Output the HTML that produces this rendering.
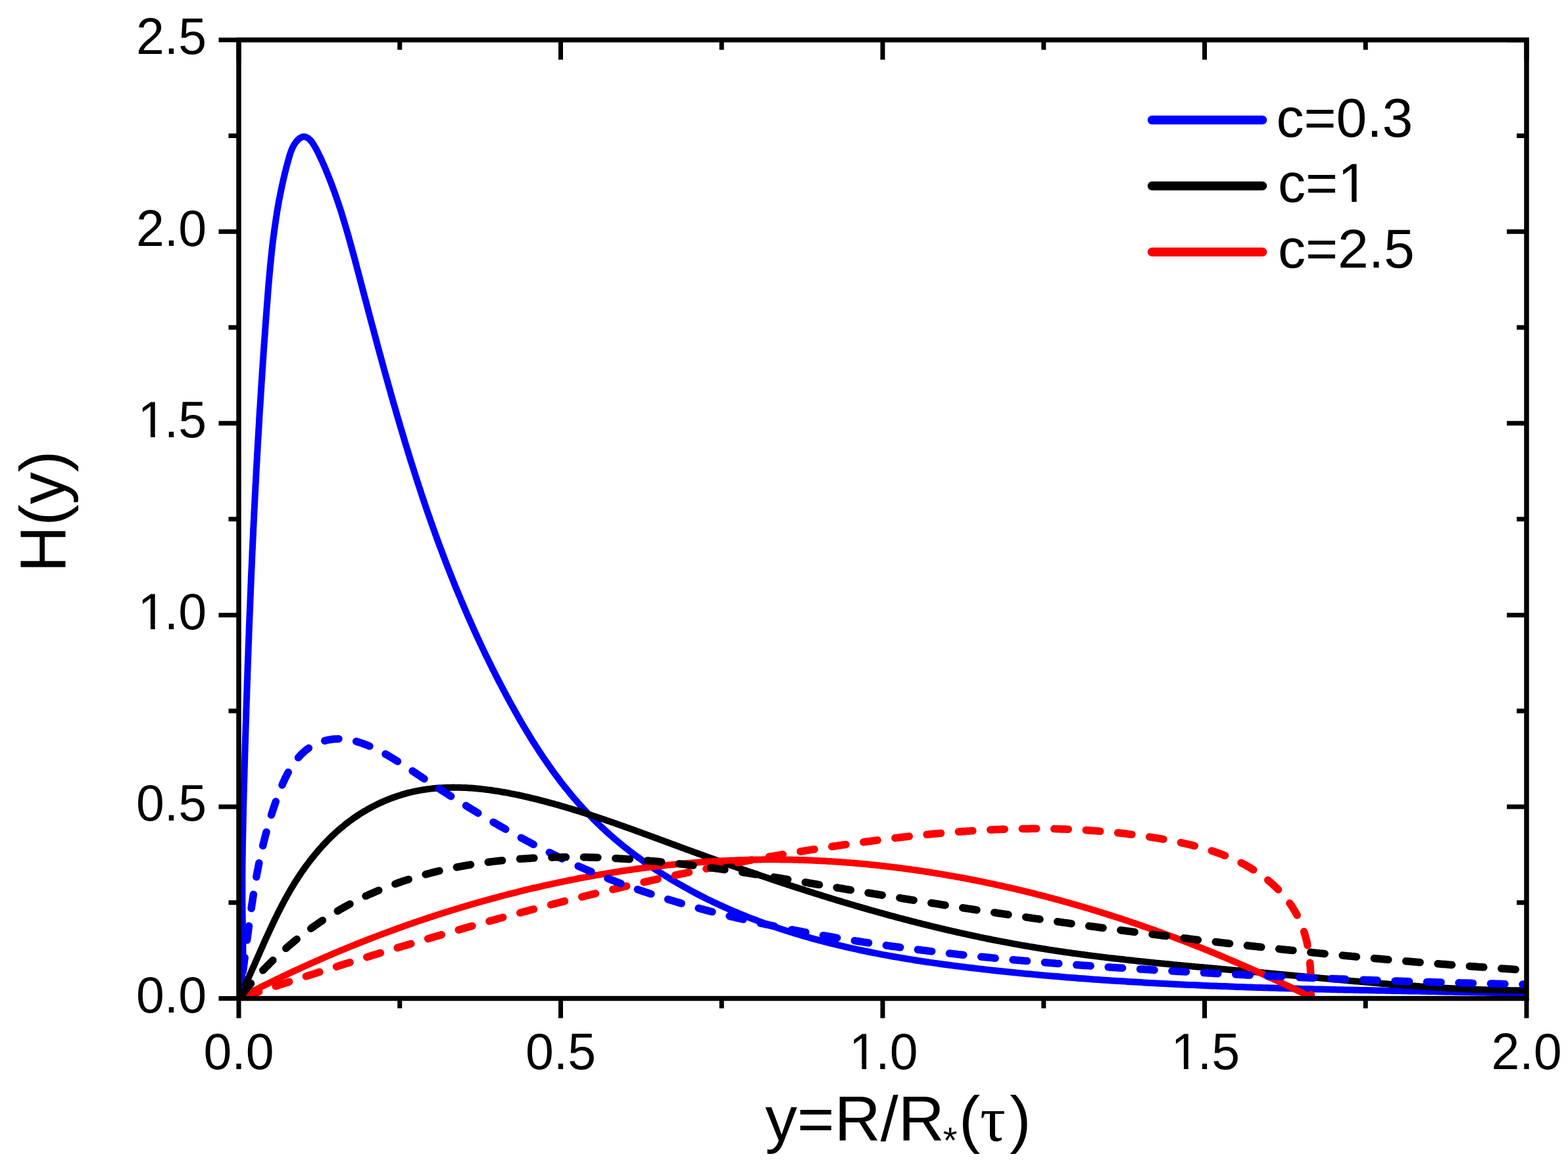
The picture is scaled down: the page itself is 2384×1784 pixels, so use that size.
<!DOCTYPE html>
<html><head><meta charset="utf-8"><title>H(y)</title>
<style>html,body{margin:0;padding:0;background:#fff;overflow:hidden}svg{display:block}</style>
</head><body>
<svg xmlns="http://www.w3.org/2000/svg" width="2384" height="1784" viewBox="0 0 2384 1784">
<rect width="2384" height="1784" fill="#fff"/>
<defs><clipPath id="pc"><rect x="363" y="40" width="1958" height="1478.5"/></clipPath></defs><g clip-path="url(#pc)"><g fill="none" stroke-width="10" stroke-linejoin="round">
<path d="M363.0,1518.5 L364.0,1513.7 L364.9,1508.8 L365.6,1503.9 L366.3,1499.1 L366.9,1494.2 L367.5,1489.3 L367.9,1484.4 L368.3,1479.5 L368.6,1474.6 L368.9,1469.7 L369.1,1464.8 L369.2,1459.9 L369.3,1454.9 L369.4,1450.0 L369.4,1445.1 L369.4,1440.1 L369.4,1435.2 L369.3,1430.3 L369.2,1425.3 L369.1,1420.4 L369.0,1415.4 L368.9,1410.5 L368.9,1405.6 L368.8,1400.6 L368.7,1395.7 L368.6,1390.7 L368.6,1385.8 L368.5,1380.8 L368.5,1375.9 L368.4,1371.0 L368.4,1366.0 L368.4,1361.1 L368.4,1356.2 L368.4,1351.2 L368.4,1346.3 L368.4,1341.3 L368.4,1336.4 L368.4,1331.5 L368.5,1326.5 L368.5,1321.6 L368.5,1316.7 L368.6,1311.7 L368.6,1306.8 L368.7,1301.9 L368.8,1296.9 L368.8,1292.0 L368.9,1287.1 L369.0,1282.2 L369.1,1277.2 L369.2,1272.3 L369.3,1267.4 L369.4,1262.4 L369.5,1257.5 L369.6,1252.6 L369.7,1247.6 L369.8,1242.7 L369.9,1237.8 L370.0,1232.9 L370.1,1227.9 L370.3,1223.0 L370.4,1218.1 L370.5,1213.1 L370.6,1208.2 L370.8,1203.3 L370.9,1198.4 L371.0,1193.4 L371.2,1188.5 L371.3,1183.6 L371.5,1178.7 L371.6,1173.7 L371.7,1168.8 L371.9,1163.9 L372.0,1158.9 L372.2,1154.0 L372.3,1149.1 L372.5,1144.2 L372.6,1139.2 L372.7,1134.3 L372.9,1129.4 L373.0,1124.4 L373.2,1119.5 L373.3,1114.6 L373.5,1109.7 L373.6,1104.7 L373.8,1099.8 L374.0,1094.9 L374.1,1089.9 L374.3,1085.0 L374.4,1080.1 L374.6,1075.2 L374.7,1070.2 L374.9,1065.3 L375.1,1060.4 L375.2,1055.4 L375.4,1050.5 L375.6,1045.6 L375.7,1040.6 L375.9,1035.7 L376.1,1030.8 L376.2,1025.9 L376.4,1020.9 L376.6,1016.0 L376.7,1011.1 L376.9,1006.1 L377.1,1001.2 L377.3,996.3 L377.5,991.4 L377.6,986.4 L377.8,981.5 L378.0,976.6 L378.2,971.6 L378.4,966.7 L378.5,961.8 L378.7,956.9 L378.9,951.9 L379.1,947.0 L379.3,942.1 L379.5,937.1 L379.7,932.2 L379.9,927.3 L380.1,922.3 L380.3,917.4 L380.5,912.5 L380.7,907.6 L380.9,902.6 L381.1,897.7 L381.3,892.8 L381.5,887.9 L381.7,882.9 L381.9,878.0 L382.1,873.1 L382.3,868.1 L382.6,863.2 L382.8,858.3 L383.0,853.4 L383.2,848.4 L383.4,843.5 L383.6,838.6 L383.9,833.6 L384.1,828.7 L384.3,823.8 L384.6,818.9 L384.8,813.9 L385.0,809.0 L385.2,804.1 L385.5,799.2 L385.7,794.2 L386.0,789.3 L386.2,784.4 L386.4,779.5 L386.7,774.5 L386.9,769.6 L387.2,764.7 L387.4,759.8 L387.7,754.8 L387.9,749.9 L388.2,745.0 L388.4,740.1 L388.7,735.1 L389.0,730.2 L389.2,725.3 L389.5,720.4 L389.7,715.4 L390.0,710.5 L390.3,705.6 L390.6,700.7 L390.8,695.7 L391.1,690.8 L391.4,685.9 L391.7,681.0 L391.9,676.0 L392.2,671.1 L392.5,666.2 L392.8,661.3 L393.1,656.4 L393.4,651.4 L393.7,646.5 L394.0,641.6 L394.2,636.7 L394.5,631.8 L394.8,626.8 L395.1,621.9 L395.5,617.0 L395.8,612.1 L396.1,607.1 L396.4,602.2 L396.7,597.3 L397.0,592.4 L397.3,587.5 L397.6,582.5 L398.0,577.6 L398.3,572.7 L398.6,567.8 L398.9,562.9 L399.3,557.9 L399.6,553.0 L399.9,548.1 L400.3,543.2 L400.6,538.3 L400.9,533.3 L401.3,528.4 L401.6,523.5 L402.0,518.6 L402.3,513.7 L402.7,508.7 L403.0,503.8 L403.4,498.9 L403.7,494.0 L404.1,489.1 L404.4,484.1 L404.8,479.2 L405.2,474.3 L405.5,469.4 L405.9,464.5 L406.3,459.5 L406.7,454.6 L407.0,449.7 L407.4,444.8 L407.8,439.9 L408.2,435.0 L408.6,430.0 L409.1,425.1 L409.5,420.2 L409.9,415.3 L410.4,410.4 L410.8,405.5 L411.3,400.6 L411.8,395.7 L412.3,390.8 L412.8,385.9 L413.3,381.0 L413.9,376.1 L414.4,371.2 L415.0,366.3 L415.6,361.4 L416.3,356.5 L416.9,351.6 L417.6,346.7 L418.3,341.9 L419.0,337.0 L419.7,332.1 L420.5,327.3 L421.2,322.4 L422.0,317.5 L422.9,312.7 L423.7,307.8 L424.6,303.0 L425.6,298.2 L426.5,293.3 L427.5,288.5 L428.5,283.7 L429.6,278.8 L430.6,274.0 L431.8,269.2 L432.9,264.4 L434.1,259.6 L435.3,254.8 L436.6,250.0 L437.9,245.3 L439.2,240.5 L440.6,235.7 L442.2,231.0 L443.9,226.4 L446.1,222.0 L448.6,217.8 L451.8,213.9 L455.5,210.4 L459.7,208.1 L464.0,208.0 L468.2,210.0 L471.9,213.2 L475.1,217.2 L477.9,221.6 L480.4,226.1 L482.8,230.6 L485.0,235.1 L487.1,239.5 L489.2,244.0 L491.2,248.5 L493.2,253.0 L495.1,257.5 L497.0,262.1 L498.8,266.6 L500.7,271.2 L502.4,275.8 L504.2,280.4 L505.9,285.0 L507.6,289.6 L509.3,294.2 L510.9,298.8 L512.5,303.5 L514.1,308.1 L515.6,312.8 L517.2,317.4 L518.7,322.1 L520.1,326.8 L521.6,331.5 L523.0,336.2 L524.4,340.9 L525.8,345.6 L527.2,350.4 L528.6,355.1 L529.9,359.8 L531.3,364.6 L532.6,369.3 L533.9,374.1 L535.2,378.8 L536.5,383.6 L537.8,388.3 L539.1,393.1 L540.3,397.9 L541.6,402.6 L542.8,407.4 L544.1,412.2 L545.4,416.9 L546.6,421.7 L547.9,426.5 L549.1,431.3 L550.4,436.0 L551.6,440.8 L552.9,445.6 L554.1,450.3 L555.4,455.1 L556.7,459.9 L557.9,464.7 L559.2,469.4 L560.4,474.2 L561.7,479.0 L563.0,483.7 L564.2,488.5 L565.5,493.3 L566.8,498.0 L568.0,502.8 L569.3,507.6 L570.6,512.3 L571.9,517.1 L573.1,521.9 L574.4,526.6 L575.7,531.4 L577.0,536.2 L578.3,540.9 L579.6,545.7 L580.9,550.4 L582.2,555.2 L583.5,560.0 L584.8,564.7 L586.1,569.5 L587.4,574.2 L588.8,579.0 L590.1,583.7 L591.4,588.5 L592.8,593.2 L594.1,598.0 L595.4,602.7 L596.8,607.4 L598.1,612.2 L599.5,616.9 L600.9,621.7 L602.2,626.4 L603.6,631.1 L605.0,635.9 L606.4,640.6 L607.8,645.3 L609.1,650.1 L610.6,654.8 L612.0,659.5 L613.4,664.2 L614.8,669.0 L616.2,673.7 L617.6,678.4 L619.1,683.1 L620.5,687.8 L622.0,692.5 L623.4,697.2 L624.9,701.9 L626.4,706.6 L627.9,711.3 L629.4,716.0 L630.9,720.7 L632.4,725.4 L633.9,730.1 L635.4,734.8 L636.9,739.5 L638.5,744.2 L640.0,748.8 L641.5,753.5 L643.1,758.2 L644.7,762.8 L646.3,767.5 L647.8,772.2 L649.4,776.8 L651.0,781.5 L652.7,786.2 L654.3,790.8 L655.9,795.4 L657.6,800.1 L659.2,804.7 L660.9,809.4 L662.5,814.0 L664.2,818.6 L665.9,823.3 L667.6,827.9 L669.3,832.5 L671.1,837.1 L672.8,841.7 L674.5,846.3 L676.3,851.0 L678.0,855.6 L679.8,860.1 L681.6,864.7 L683.4,869.3 L685.2,873.9 L687.0,878.5 L688.9,883.1 L690.7,887.6 L692.5,892.2 L694.4,896.8 L696.3,901.3 L698.2,905.9 L700.1,910.4 L702.0,915.0 L703.9,919.5 L705.8,924.0 L707.8,928.6 L709.7,933.1 L711.7,937.6 L713.7,942.1 L715.7,946.6 L717.7,951.1 L719.7,955.6 L721.7,960.1 L723.8,964.6 L725.8,969.1 L727.9,973.5 L730.0,978.0 L732.1,982.5 L734.2,986.9 L736.3,991.4 L738.4,995.8 L740.6,1000.2 L742.7,1004.7 L744.9,1009.1 L747.1,1013.5 L749.3,1017.9 L751.5,1022.3 L753.7,1026.7 L756.0,1031.1 L758.2,1035.5 L760.5,1039.9 L762.8,1044.3 L765.1,1048.6 L767.4,1053.0 L769.7,1057.4 L772.1,1061.7 L774.4,1066.0 L776.8,1070.4 L779.2,1074.7 L781.6,1079.0 L784.0,1083.3 L786.4,1087.6 L788.9,1091.9 L791.3,1096.2 L793.8,1100.5 L796.3,1104.7 L798.9,1109.0 L801.4,1113.2 L804.0,1117.4 L806.5,1121.6 L809.1,1125.8 L811.8,1130.0 L814.4,1134.2 L817.1,1138.3 L819.8,1142.5 L822.5,1146.6 L825.2,1150.7 L828.0,1154.8 L830.7,1158.8 L833.6,1162.9 L836.4,1166.9 L839.2,1170.9 L842.1,1174.9 L845.0,1178.9 L848.0,1182.8 L850.9,1186.8 L853.9,1190.7 L856.9,1194.5 L860.0,1198.4 L863.1,1202.2 L866.2,1206.0 L869.3,1209.8 L872.5,1213.6 L875.7,1217.3 L878.9,1221.0 L882.2,1224.7 L885.5,1228.3 L888.8,1231.9 L892.2,1235.5 L895.6,1239.1 L899.0,1242.6 L902.5,1246.1 L906.0,1249.6 L909.5,1253.0 L913.1,1256.5 L916.7,1259.8 L920.3,1263.2 L923.9,1266.5 L927.6,1269.8 L931.4,1273.0 L935.1,1276.3 L938.9,1279.5 L942.7,1282.6 L946.5,1285.8 L950.4,1288.9 L954.3,1291.9 L958.2,1295.0 L962.1,1298.0 L966.1,1301.0 L970.1,1303.9 L974.1,1306.8 L978.1,1309.7 L982.2,1312.6 L986.3,1315.4 L990.4,1318.2 L994.5,1321.0 L998.6,1323.7 L1002.8,1326.4 L1007.0,1329.1 L1011.2,1331.7 L1015.4,1334.3 L1019.6,1336.9 L1023.8,1339.5 L1028.1,1342.0 L1032.4,1344.5 L1036.7,1346.9 L1041.0,1349.3 L1045.3,1351.7 L1049.6,1354.1 L1053.9,1356.4 L1058.3,1358.7 L1062.6,1361.0 L1067.0,1363.3 L1071.4,1365.5 L1075.8,1367.7 L1080.2,1369.8 L1084.6,1371.9 L1089.1,1374.0 L1093.5,1376.1 L1098.0,1378.1 L1102.4,1380.2 L1106.9,1382.1 L1111.4,1384.1 L1115.9,1386.0 L1120.4,1387.9 L1124.9,1389.8 L1129.5,1391.7 L1134.0,1393.5 L1138.5,1395.3 L1143.1,1397.1 L1147.7,1398.8 L1152.3,1400.6 L1156.8,1402.3 L1161.4,1403.9 L1166.0,1405.6 L1170.7,1407.2 L1175.3,1408.8 L1179.9,1410.4 L1184.6,1412.0 L1189.2,1413.5 L1193.9,1415.0 L1198.5,1416.5 L1203.2,1417.9 L1207.9,1419.4 L1212.6,1420.8 L1217.3,1422.2 L1222.0,1423.6 L1226.7,1424.9 L1231.4,1426.3 L1236.2,1427.6 L1240.9,1428.9 L1245.7,1430.2 L1250.4,1431.4 L1255.2,1432.7 L1259.9,1433.9 L1264.7,1435.1 L1269.5,1436.2 L1274.3,1437.4 L1279.0,1438.5 L1283.8,1439.7 L1288.6,1440.8 L1293.4,1441.9 L1298.3,1442.9 L1303.1,1444.0 L1307.9,1445.0 L1312.7,1446.0 L1317.6,1447.0 L1322.4,1448.0 L1327.2,1449.0 L1332.1,1449.9 L1336.9,1450.9 L1341.8,1451.8 L1346.6,1452.7 L1351.5,1453.6 L1356.4,1454.5 L1361.2,1455.3 L1366.1,1456.2 L1371.0,1457.0 L1375.9,1457.8 L1380.8,1458.6 L1385.7,1459.4 L1390.6,1460.2 L1395.4,1461.0 L1400.3,1461.7 L1405.2,1462.5 L1410.1,1463.2 L1415.1,1463.9 L1420.0,1464.6 L1424.9,1465.3 L1429.8,1466.0 L1434.7,1466.7 L1439.6,1467.3 L1444.5,1468.0 L1449.4,1468.6 L1454.4,1469.3 L1459.3,1469.9 L1464.2,1470.5 L1469.1,1471.1 L1474.0,1471.7 L1479.0,1472.3 L1483.9,1472.9 L1488.8,1473.4 L1493.7,1474.0 L1498.7,1474.6 L1503.6,1475.1 L1508.5,1475.7 L1513.4,1476.2 L1518.4,1476.7 L1523.3,1477.2 L1528.2,1477.7 L1533.1,1478.3 L1538.1,1478.8 L1543.0,1479.3 L1547.9,1479.7 L1552.8,1480.2 L1557.8,1480.7 L1562.7,1481.2 L1567.6,1481.6 L1572.5,1482.1 L1577.4,1482.5 L1582.4,1483.0 L1587.3,1483.4 L1592.2,1483.9 L1597.1,1484.3 L1602.0,1484.7 L1607.0,1485.1 L1611.9,1485.5 L1616.8,1486.0 L1621.7,1486.4 L1626.6,1486.7 L1631.5,1487.1 L1636.5,1487.5 L1641.4,1487.9 L1646.3,1488.3 L1651.2,1488.6 L1656.1,1489.0 L1661.0,1489.4 L1666.0,1489.7 L1670.9,1490.1 L1675.8,1490.4 L1680.7,1490.7 L1685.6,1491.1 L1690.5,1491.4 L1695.4,1491.7 L1700.4,1492.0 L1705.3,1492.3 L1710.2,1492.6 L1715.1,1493.0 L1720.0,1493.3 L1724.9,1493.5 L1729.8,1493.8 L1734.8,1494.1 L1739.7,1494.4 L1744.6,1494.7 L1749.5,1495.0 L1754.4,1495.2 L1759.3,1495.5 L1764.2,1495.7 L1769.2,1496.0 L1774.1,1496.2 L1779.0,1496.5 L1783.9,1496.7 L1788.8,1497.0 L1793.7,1497.2 L1798.6,1497.4 L1803.6,1497.7 L1808.5,1497.9 L1813.4,1498.1 L1818.3,1498.3 L1823.2,1498.6 L1828.1,1498.8 L1833.0,1499.0 L1838.0,1499.2 L1842.9,1499.4 L1847.8,1499.6 L1852.7,1499.8 L1857.6,1500.0 L1862.5,1500.1 L1867.4,1500.3 L1872.4,1500.5 L1877.3,1500.7 L1882.2,1500.9 L1887.1,1501.0 L1892.0,1501.2 L1896.9,1501.4 L1901.8,1501.5 L1906.8,1501.7 L1911.7,1501.9 L1916.6,1502.0 L1921.5,1502.2 L1926.4,1502.3 L1931.3,1502.5 L1936.3,1502.6 L1941.2,1502.8 L1946.1,1502.9 L1951.0,1503.1 L1955.9,1503.2 L1960.8,1503.3 L1965.8,1503.5 L1970.7,1503.6 L1975.6,1503.7 L1980.5,1503.9 L1985.4,1504.0 L1990.4,1504.1 L1995.3,1504.2 L2000.2,1504.4 L2005.1,1504.5 L2010.0,1504.6 L2015.0,1504.7 L2019.9,1504.8 L2024.8,1504.9 L2029.7,1505.0 L2034.7,1505.2 L2039.6,1505.3 L2044.5,1505.4 L2049.4,1505.5 L2054.3,1505.6 L2059.3,1505.7 L2064.2,1505.8 L2069.1,1505.9 L2074.0,1506.0 L2079.0,1506.1 L2083.9,1506.2 L2088.8,1506.3 L2093.8,1506.4 L2098.7,1506.5 L2103.6,1506.6 L2108.5,1506.7 L2113.5,1506.8 L2118.4,1506.9 L2123.3,1507.0 L2128.3,1507.1 L2133.2,1507.2 L2138.1,1507.3 L2143.1,1507.4 L2148.0,1507.4 L2152.9,1507.5 L2157.9,1507.6 L2162.8,1507.7 L2167.7,1507.8 L2172.7,1507.9 L2177.6,1508.0 L2182.5,1508.1 L2187.5,1508.2 L2192.4,1508.3 L2197.3,1508.4 L2202.3,1508.5 L2207.2,1508.6 L2212.2,1508.7 L2217.1,1508.8 L2222.0,1508.9 L2227.0,1509.0 L2231.9,1509.1 L2236.9,1509.2 L2241.8,1509.3 L2246.8,1509.4 L2251.7,1509.5 L2256.6,1509.6 L2261.6,1509.7 L2266.5,1509.8 L2271.5,1509.9 L2276.4,1510.0 L2281.4,1510.1 L2286.3,1510.2 L2291.3,1510.3 L2296.2,1510.4 L2301.2,1510.5 L2306.1,1510.6 L2311.1,1510.8 L2316.0,1510.9 L2321.0,1511.0" stroke="#0000ff" stroke-linecap="butt"/>
<path d="M363.0,1518.5 L364.2,1516.1 L365.3,1513.8 L366.5,1511.4 L367.6,1509.0 L368.8,1506.6 L369.9,1504.2 L371.0,1501.8 L372.2,1499.4 L373.3,1497.0 L374.4,1494.6 L375.5,1492.2 L376.6,1489.8 L377.7,1487.3 L378.8,1484.9 L379.9,1482.5 L381.0,1480.0 L382.1,1477.6 L383.2,1475.1 L384.3,1472.7 L385.4,1470.2 L386.5,1467.8 L387.6,1465.3 L388.6,1462.8 L389.7,1460.4 L390.8,1457.9 L391.9,1455.4 L393.0,1452.9 L394.1,1450.5 L395.2,1448.0 L396.3,1445.5 L397.4,1443.0 L398.5,1440.6 L399.6,1438.1 L400.7,1435.6 L401.8,1433.1 L402.9,1430.6 L404.0,1428.2 L405.1,1425.7 L406.3,1423.2 L407.4,1420.7 L408.5,1418.3 L409.7,1415.8 L410.8,1413.3 L412.0,1410.8 L413.1,1408.4 L414.3,1405.9 L415.4,1403.4 L416.6,1401.0 L417.8,1398.5 L419.0,1396.1 L420.2,1393.6 L421.4,1391.2 L422.6,1388.7 L423.8,1386.3 L425.1,1383.9 L426.3,1381.4 L427.6,1379.0 L428.8,1376.6 L430.1,1374.2 L431.4,1371.8 L432.7,1369.3 L434.0,1366.9 L435.3,1364.6 L436.6,1362.2 L438.0,1359.8 L439.3,1357.4 L440.7,1355.0 L442.1,1352.7 L443.4,1350.3 L444.9,1348.0 L446.3,1345.7 L447.7,1343.3 L449.1,1341.0 L450.6,1338.7 L452.1,1336.4 L453.6,1334.1 L455.1,1331.8 L456.6,1329.5 L458.1,1327.3 L459.7,1325.0 L461.3,1322.8 L462.8,1320.5 L464.4,1318.3 L466.1,1316.1 L467.7,1313.9 L469.3,1311.7 L471.0,1309.5 L472.7,1307.4 L474.3,1305.2 L476.1,1303.1 L477.8,1301.0 L479.5,1298.8 L481.3,1296.7 L483.0,1294.7 L484.8,1292.6 L486.6,1290.5 L488.4,1288.5 L490.2,1286.5 L492.1,1284.5 L494.0,1282.5 L495.8,1280.5 L497.7,1278.6 L499.6,1276.6 L501.6,1274.7 L503.5,1272.8 L505.4,1270.9 L507.4,1269.1 L509.4,1267.2 L511.4,1265.4 L513.4,1263.6 L515.5,1261.8 L517.5,1260.0 L519.6,1258.3 L521.7,1256.6 L523.8,1254.9 L525.9,1253.2 L528.0,1251.5 L530.1,1249.9 L532.3,1248.3 L534.5,1246.7 L536.7,1245.1 L538.9,1243.5 L541.1,1242.0 L543.4,1240.5 L545.6,1239.0 L547.9,1237.6 L550.2,1236.1 L552.5,1234.7 L554.8,1233.4 L557.1,1232.0 L559.4,1230.7 L561.8,1229.4 L564.1,1228.1 L566.5,1226.8 L568.9,1225.6 L571.3,1224.4 L573.7,1223.2 L576.1,1222.0 L578.5,1220.9 L581.0,1219.8 L583.4,1218.7 L585.9,1217.6 L588.4,1216.6 L590.8,1215.6 L593.3,1214.6 L595.8,1213.7 L598.3,1212.8 L600.9,1211.9 L603.4,1211.0 L605.9,1210.2 L608.4,1209.4 L611.0,1208.6 L613.5,1207.8 L616.1,1207.1 L618.6,1206.4 L621.2,1205.7 L623.8,1205.1 L626.4,1204.5 L629.0,1203.9 L631.6,1203.4 L634.1,1202.8 L636.7,1202.3 L639.4,1201.9 L642.0,1201.4 L644.6,1201.0 L647.2,1200.6 L649.8,1200.2 L652.5,1199.9 L655.1,1199.6 L657.7,1199.3 L660.4,1199.0 L663.0,1198.8 L665.7,1198.6 L668.3,1198.4 L671.0,1198.2 L673.6,1198.1 L676.3,1197.9 L679.0,1197.8 L681.6,1197.8 L684.3,1197.7 L687.0,1197.7 L689.7,1197.6 L692.3,1197.7 L695.0,1197.7 L697.7,1197.7 L700.4,1197.8 L703.1,1197.9 L705.8,1198.0 L708.5,1198.1 L711.2,1198.3 L713.9,1198.4 L716.6,1198.6 L719.3,1198.8 L722.0,1199.0 L724.7,1199.3 L727.4,1199.5 L730.1,1199.8 L732.8,1200.1 L735.5,1200.4 L738.2,1200.7 L740.9,1201.1 L743.6,1201.4 L746.3,1201.8 L749.0,1202.2 L751.7,1202.6 L754.4,1203.0 L757.1,1203.4 L759.8,1203.8 L762.5,1204.3 L765.2,1204.8 L767.9,1205.2 L770.6,1205.7 L773.3,1206.2 L776.0,1206.8 L778.7,1207.3 L781.4,1207.8 L784.1,1208.4 L786.8,1208.9 L789.5,1209.5 L792.2,1210.1 L794.8,1210.7 L797.5,1211.3 L800.2,1211.9 L802.9,1212.5 L805.5,1213.1 L808.2,1213.8 L810.9,1214.4 L813.5,1215.1 L816.2,1215.7 L818.9,1216.4 L821.5,1217.1 L824.2,1217.8 L826.8,1218.5 L829.5,1219.2 L832.1,1219.9 L834.7,1220.6 L837.4,1221.3 L840.0,1222.0 L842.6,1222.7 L845.3,1223.5 L847.9,1224.2 L850.5,1224.9 L853.1,1225.7 L855.7,1226.5 L858.3,1227.2 L860.9,1228.0 L863.5,1228.8 L866.1,1229.5 L868.7,1230.3 L871.3,1231.1 L873.9,1231.9 L876.5,1232.7 L879.1,1233.5 L881.7,1234.3 L884.3,1235.1 L886.9,1236.0 L889.4,1236.8 L892.0,1237.6 L894.6,1238.4 L897.2,1239.3 L899.7,1240.1 L902.3,1241.0 L904.9,1241.8 L907.4,1242.7 L910.0,1243.5 L912.6,1244.4 L915.1,1245.2 L917.7,1246.1 L920.2,1247.0 L922.8,1247.9 L925.3,1248.7 L927.9,1249.6 L930.4,1250.5 L933.0,1251.4 L935.5,1252.3 L938.1,1253.2 L940.6,1254.1 L943.2,1255.0 L945.7,1255.9 L948.2,1256.8 L950.8,1257.7 L953.3,1258.6 L955.9,1259.5 L958.4,1260.4 L960.9,1261.3 L963.5,1262.2 L966.0,1263.2 L968.5,1264.1 L971.1,1265.0 L973.6,1265.9 L976.1,1266.8 L978.6,1267.8 L981.2,1268.7 L983.7,1269.6 L986.2,1270.6 L988.8,1271.5 L991.3,1272.4 L993.8,1273.3 L996.3,1274.3 L998.9,1275.2 L1001.4,1276.1 L1003.9,1277.1 L1006.5,1278.0 L1009.0,1278.9 L1011.5,1279.9 L1014.0,1280.8 L1016.6,1281.7 L1019.1,1282.7 L1021.6,1283.6 L1024.1,1284.5 L1026.7,1285.5 L1029.2,1286.4 L1031.7,1287.3 L1034.3,1288.3 L1036.8,1289.2 L1039.3,1290.1 L1041.9,1291.1 L1044.4,1292.0 L1046.9,1292.9 L1049.5,1293.9 L1052.0,1294.8 L1054.5,1295.7 L1057.1,1296.6 L1059.6,1297.5 L1062.1,1298.5 L1064.7,1299.4 L1067.2,1300.3 L1069.7,1301.2 L1072.3,1302.1 L1074.8,1303.1 L1077.4,1304.0 L1079.9,1304.9 L1082.5,1305.8 L1085.0,1306.7 L1087.5,1307.6 L1090.1,1308.5 L1092.6,1309.4 L1095.2,1310.3 L1097.7,1311.2 L1100.3,1312.1 L1102.8,1313.0 L1105.4,1313.9 L1107.9,1314.8 L1110.5,1315.7 L1113.0,1316.6 L1115.6,1317.5 L1118.1,1318.4 L1120.7,1319.3 L1123.2,1320.2 L1125.8,1321.1 L1128.3,1322.0 L1130.9,1322.9 L1133.4,1323.8 L1136.0,1324.7 L1138.6,1325.5 L1141.1,1326.4 L1143.7,1327.3 L1146.2,1328.2 L1148.8,1329.1 L1151.3,1329.9 L1153.9,1330.8 L1156.5,1331.7 L1159.0,1332.5 L1161.6,1333.4 L1164.2,1334.3 L1166.7,1335.1 L1169.3,1336.0 L1171.9,1336.9 L1174.4,1337.7 L1177.0,1338.6 L1179.6,1339.4 L1182.1,1340.3 L1184.7,1341.2 L1187.3,1342.0 L1189.8,1342.9 L1192.4,1343.7 L1195.0,1344.6 L1197.5,1345.4 L1200.1,1346.2 L1202.7,1347.1 L1205.3,1347.9 L1207.8,1348.8 L1210.4,1349.6 L1213.0,1350.4 L1215.6,1351.3 L1218.1,1352.1 L1220.7,1352.9 L1223.3,1353.7 L1225.9,1354.6 L1228.5,1355.4 L1231.0,1356.2 L1233.6,1357.0 L1236.2,1357.8 L1238.8,1358.7 L1241.4,1359.5 L1244.0,1360.3 L1246.5,1361.1 L1249.1,1361.9 L1251.7,1362.7 L1254.3,1363.5 L1256.9,1364.3 L1259.5,1365.1 L1262.1,1365.9 L1264.6,1366.7 L1267.2,1367.5 L1269.8,1368.3 L1272.4,1369.1 L1275.0,1369.8 L1277.6,1370.6 L1280.2,1371.4 L1282.8,1372.2 L1285.4,1373.0 L1288.0,1373.7 L1290.6,1374.5 L1293.2,1375.3 L1295.8,1376.0 L1298.4,1376.8 L1301.0,1377.6 L1303.6,1378.3 L1306.2,1379.1 L1308.8,1379.8 L1311.4,1380.6 L1314.0,1381.3 L1316.6,1382.1 L1319.2,1382.8 L1321.8,1383.6 L1324.4,1384.3 L1327.0,1385.0 L1329.6,1385.8 L1332.2,1386.5 L1334.8,1387.2 L1337.4,1388.0 L1340.0,1388.7 L1342.6,1389.4 L1345.2,1390.1 L1347.8,1390.8 L1350.5,1391.6 L1353.1,1392.3 L1355.7,1393.0 L1358.3,1393.7 L1360.9,1394.4 L1363.5,1395.1 L1366.1,1395.8 L1368.7,1396.5 L1371.4,1397.2 L1374.0,1397.9 L1376.6,1398.6 L1379.2,1399.2 L1381.8,1399.9 L1384.5,1400.6 L1387.1,1401.3 L1389.7,1401.9 L1392.3,1402.6 L1394.9,1403.3 L1397.6,1403.9 L1400.2,1404.6 L1402.8,1405.3 L1405.4,1405.9 L1408.1,1406.6 L1410.7,1407.2 L1413.3,1407.9 L1415.9,1408.5 L1418.6,1409.2 L1421.2,1409.8 L1423.8,1410.4 L1426.4,1411.1 L1429.1,1411.7 L1431.7,1412.3 L1434.3,1412.9 L1437.0,1413.6 L1439.6,1414.2 L1442.2,1414.8 L1444.9,1415.4 L1447.5,1416.0 L1450.1,1416.6 L1452.8,1417.2 L1455.4,1417.8 L1458.1,1418.4 L1460.7,1419.0 L1463.3,1419.6 L1466.0,1420.2 L1468.6,1420.7 L1471.3,1421.3 L1473.9,1421.9 L1476.5,1422.5 L1479.2,1423.0 L1481.8,1423.6 L1484.5,1424.2 L1487.1,1424.7 L1489.8,1425.3 L1492.4,1425.8 L1495.1,1426.4 L1497.7,1426.9 L1500.3,1427.5 L1503.0,1428.0 L1505.6,1428.5 L1508.3,1429.1 L1510.9,1429.6 L1513.6,1430.1 L1516.2,1430.6 L1518.9,1431.2 L1521.6,1431.7 L1524.2,1432.2 L1526.9,1432.7 L1529.5,1433.2 L1532.2,1433.7 L1534.8,1434.2 L1537.5,1434.7 L1540.1,1435.2 L1542.8,1435.6 L1545.5,1436.1 L1548.1,1436.6 L1550.8,1437.1 L1553.4,1437.6 L1556.1,1438.0 L1558.8,1438.5 L1561.4,1438.9 L1564.1,1439.4 L1566.8,1439.8 L1569.4,1440.3 L1572.1,1440.7 L1574.8,1441.2 L1577.4,1441.6 L1580.1,1442.0 L1582.8,1442.5 L1585.4,1442.9 L1588.1,1443.3 L1590.8,1443.7 L1593.4,1444.2 L1596.1,1444.6 L1598.8,1445.0 L1601.4,1445.4 L1604.1,1445.8 L1606.8,1446.2 L1609.5,1446.6 L1612.1,1447.0 L1614.8,1447.4 L1617.5,1447.8 L1620.2,1448.2 L1622.8,1448.5 L1625.5,1448.9 L1628.2,1449.3 L1630.9,1449.7 L1633.6,1450.0 L1636.2,1450.4 L1638.9,1450.8 L1641.6,1451.1 L1644.3,1451.5 L1647.0,1451.8 L1649.6,1452.2 L1652.3,1452.5 L1655.0,1452.9 L1657.7,1453.2 L1660.4,1453.6 L1663.0,1453.9 L1665.7,1454.3 L1668.4,1454.6 L1671.1,1454.9 L1673.8,1455.3 L1676.5,1455.6 L1679.2,1455.9 L1681.8,1456.2 L1684.5,1456.6 L1687.2,1456.9 L1689.9,1457.2 L1692.6,1457.5 L1695.3,1457.8 L1698.0,1458.1 L1700.7,1458.4 L1703.3,1458.7 L1706.0,1459.0 L1708.7,1459.3 L1711.4,1459.6 L1714.1,1459.9 L1716.8,1460.2 L1719.5,1460.5 L1722.2,1460.8 L1724.9,1461.1 L1727.6,1461.4 L1730.3,1461.7 L1732.9,1462.0 L1735.6,1462.3 L1738.3,1462.5 L1741.0,1462.8 L1743.7,1463.1 L1746.4,1463.4 L1749.1,1463.6 L1751.8,1463.9 L1754.5,1464.2 L1757.2,1464.5 L1759.9,1464.7 L1762.6,1465.0 L1765.3,1465.3 L1768.0,1465.5 L1770.7,1465.8 L1773.4,1466.1 L1776.0,1466.3 L1778.7,1466.6 L1781.4,1466.8 L1784.1,1467.1 L1786.8,1467.4 L1789.5,1467.6 L1792.2,1467.9 L1794.9,1468.1 L1797.6,1468.4 L1800.3,1468.6 L1803.0,1468.9 L1805.7,1469.1 L1808.4,1469.4 L1811.1,1469.6 L1813.8,1469.9 L1816.5,1470.1 L1819.2,1470.4 L1821.9,1470.6 L1824.6,1470.9 L1827.3,1471.1 L1830.0,1471.3 L1832.7,1471.6 L1835.4,1471.8 L1838.1,1472.1 L1840.8,1472.3 L1843.5,1472.6 L1846.2,1472.8 L1848.9,1473.0 L1851.6,1473.3 L1854.3,1473.5 L1857.0,1473.8 L1859.7,1474.0 L1862.4,1474.2 L1865.1,1474.5 L1867.8,1474.7 L1870.5,1474.9 L1873.2,1475.2 L1875.9,1475.4 L1878.6,1475.7 L1881.3,1475.9 L1884.0,1476.1 L1886.6,1476.4 L1889.3,1476.6 L1892.0,1476.8 L1894.7,1477.1 L1897.4,1477.3 L1900.1,1477.6 L1902.8,1477.8 L1905.5,1478.0 L1908.2,1478.3 L1910.9,1478.5 L1913.6,1478.8 L1916.3,1479.0 L1919.0,1479.2 L1921.7,1479.5 L1924.4,1479.7 L1927.1,1480.0 L1929.8,1480.2 L1932.5,1480.5 L1935.2,1480.7 L1937.9,1480.9 L1940.6,1481.2 L1943.3,1481.4 L1946.0,1481.7 L1948.7,1481.9 L1951.4,1482.2 L1954.1,1482.4 L1956.7,1482.7 L1959.4,1482.9 L1962.1,1483.2 L1964.8,1483.4 L1967.5,1483.7 L1970.2,1483.9 L1972.9,1484.2 L1975.6,1484.4 L1978.3,1484.7 L1981.0,1484.9 L1983.7,1485.2 L1986.4,1485.4 L1989.1,1485.7 L1991.8,1485.9 L1994.4,1486.2 L1997.1,1486.4 L1999.8,1486.7 L2002.5,1486.9 L2005.2,1487.2 L2007.9,1487.5 L2010.6,1487.7 L2013.3,1488.0 L2016.0,1488.2 L2018.7,1488.5 L2021.4,1488.7 L2024.1,1489.0 L2026.7,1489.2 L2029.4,1489.5 L2032.1,1489.7 L2034.8,1489.9 L2037.5,1490.2 L2040.2,1490.4 L2042.9,1490.7 L2045.6,1490.9 L2048.3,1491.2 L2051.0,1491.4 L2053.7,1491.7 L2056.4,1491.9 L2059.0,1492.2 L2061.7,1492.4 L2064.4,1492.6 L2067.1,1492.9 L2069.8,1493.1 L2072.5,1493.3 L2075.2,1493.6 L2077.9,1493.8 L2080.6,1494.1 L2083.3,1494.3 L2086.0,1494.5 L2088.7,1494.7 L2091.3,1495.0 L2094.0,1495.2 L2096.7,1495.4 L2099.4,1495.7 L2102.1,1495.9 L2104.8,1496.1 L2107.5,1496.3 L2110.2,1496.5 L2112.9,1496.8 L2115.6,1497.0 L2118.3,1497.2 L2121.0,1497.4 L2123.7,1497.6 L2126.4,1497.8 L2129.0,1498.0 L2131.7,1498.2 L2134.4,1498.4 L2137.1,1498.7 L2139.8,1498.9 L2142.5,1499.1 L2145.2,1499.2 L2147.9,1499.4 L2150.6,1499.6 L2153.3,1499.8 L2156.0,1500.0 L2158.7,1500.2 L2161.4,1500.4 L2164.1,1500.6 L2166.8,1500.8 L2169.5,1500.9 L2172.2,1501.1 L2174.9,1501.3 L2177.6,1501.5 L2180.3,1501.6 L2183.0,1501.8 L2185.7,1502.0 L2188.4,1502.1 L2191.1,1502.3 L2193.8,1502.4 L2196.5,1502.6 L2199.2,1502.7 L2201.9,1502.9 L2204.6,1503.0 L2207.3,1503.2 L2210.0,1503.3 L2212.7,1503.5 L2215.4,1503.6 L2218.1,1503.7 L2220.8,1503.8 L2223.5,1504.0 L2226.2,1504.1 L2228.9,1504.2 L2231.6,1504.3 L2234.3,1504.5 L2237.0,1504.6 L2239.7,1504.7 L2242.4,1504.8 L2245.1,1504.9 L2247.8,1505.0 L2250.5,1505.1 L2253.2,1505.2 L2255.9,1505.3 L2258.6,1505.3 L2261.3,1505.4 L2264.0,1505.5 L2266.7,1505.6 L2269.5,1505.6 L2272.2,1505.7 L2274.9,1505.8 L2277.6,1505.8 L2280.3,1505.9 L2283.0,1505.9 L2285.7,1506.0 L2288.4,1506.0 L2291.1,1506.1 L2293.9,1506.1 L2296.6,1506.2 L2299.3,1506.2 L2302.0,1506.2 L2304.7,1506.2 L2307.4,1506.3 L2310.1,1506.3 L2312.9,1506.3 L2315.6,1506.3 L2318.3,1506.3 L2321.0,1506.3" stroke="#000000" stroke-linecap="butt"/>
<path d="M363.0,1518.5 L364.9,1517.5 L366.8,1516.5 L368.7,1515.5 L370.5,1514.5 L372.4,1513.6 L374.3,1512.6 L376.2,1511.6 L378.1,1510.6 L380.0,1509.7 L381.9,1508.7 L383.8,1507.7 L385.7,1506.8 L387.6,1505.8 L389.5,1504.8 L391.4,1503.9 L393.3,1502.9 L395.2,1502.0 L397.1,1501.0 L399.1,1500.0 L401.0,1499.1 L402.9,1498.2 L404.8,1497.2 L406.7,1496.3 L408.6,1495.3 L410.5,1494.4 L412.4,1493.4 L414.3,1492.5 L416.3,1491.6 L418.2,1490.6 L420.1,1489.7 L422.0,1488.8 L423.9,1487.9 L425.9,1486.9 L427.8,1486.0 L429.7,1485.1 L431.6,1484.2 L433.6,1483.3 L435.5,1482.4 L437.4,1481.5 L439.3,1480.6 L441.3,1479.6 L443.2,1478.7 L445.1,1477.8 L447.1,1476.9 L449.0,1476.0 L450.9,1475.2 L452.9,1474.3 L454.8,1473.4 L456.7,1472.5 L458.7,1471.6 L460.6,1470.7 L462.6,1469.8 L464.5,1468.9 L466.4,1468.1 L468.4,1467.2 L470.3,1466.3 L472.3,1465.5 L474.2,1464.6 L476.2,1463.7 L478.1,1462.8 L480.1,1462.0 L482.0,1461.1 L484.0,1460.3 L485.9,1459.4 L487.9,1458.6 L489.8,1457.7 L491.8,1456.9 L493.7,1456.0 L495.7,1455.2 L497.7,1454.3 L499.6,1453.5 L501.6,1452.6 L503.5,1451.8 L505.5,1451.0 L507.5,1450.1 L509.4,1449.3 L511.4,1448.5 L513.3,1447.6 L515.3,1446.8 L517.3,1446.0 L519.2,1445.2 L521.2,1444.4 L523.2,1443.6 L525.2,1442.7 L527.1,1441.9 L529.1,1441.1 L531.1,1440.3 L533.0,1439.5 L535.0,1438.7 L537.0,1437.9 L539.0,1437.1 L540.9,1436.3 L542.9,1435.5 L544.9,1434.7 L546.9,1433.9 L548.9,1433.2 L550.8,1432.4 L552.8,1431.6 L554.8,1430.8 L556.8,1430.0 L558.8,1429.3 L560.8,1428.5 L562.8,1427.7 L564.7,1426.9 L566.7,1426.2 L568.7,1425.4 L570.7,1424.6 L572.7,1423.9 L574.7,1423.1 L576.7,1422.4 L578.7,1421.6 L580.7,1420.9 L582.7,1420.1 L584.7,1419.4 L586.7,1418.6 L588.7,1417.9 L590.7,1417.1 L592.7,1416.4 L594.7,1415.7 L596.7,1414.9 L598.7,1414.2 L600.7,1413.5 L602.7,1412.8 L604.7,1412.0 L606.7,1411.3 L608.7,1410.6 L610.7,1409.9 L612.7,1409.2 L614.7,1408.4 L616.7,1407.7 L618.7,1407.0 L620.7,1406.3 L622.8,1405.6 L624.8,1404.9 L626.8,1404.2 L628.8,1403.5 L630.8,1402.8 L632.8,1402.1 L634.8,1401.4 L636.9,1400.7 L638.9,1400.1 L640.9,1399.4 L642.9,1398.7 L644.9,1398.0 L647.0,1397.3 L649.0,1396.7 L651.0,1396.0 L653.0,1395.3 L655.1,1394.7 L657.1,1394.0 L659.1,1393.3 L661.1,1392.7 L663.2,1392.0 L665.2,1391.3 L667.2,1390.7 L669.2,1390.0 L671.3,1389.4 L673.3,1388.7 L675.3,1388.1 L677.4,1387.5 L679.4,1386.8 L681.4,1386.2 L683.5,1385.5 L685.5,1384.9 L687.6,1384.3 L689.6,1383.7 L691.6,1383.0 L693.7,1382.4 L695.7,1381.8 L697.8,1381.2 L699.8,1380.5 L701.8,1379.9 L703.9,1379.3 L705.9,1378.7 L708.0,1378.1 L710.0,1377.5 L712.1,1376.9 L714.1,1376.3 L716.1,1375.7 L718.2,1375.1 L720.2,1374.5 L722.3,1373.9 L724.3,1373.3 L726.4,1372.7 L728.4,1372.2 L730.5,1371.6 L732.6,1371.0 L734.6,1370.4 L736.7,1369.8 L738.7,1369.3 L740.8,1368.7 L742.8,1368.1 L744.9,1367.6 L746.9,1367.0 L749.0,1366.4 L751.1,1365.9 L753.1,1365.3 L755.2,1364.8 L757.2,1364.2 L759.3,1363.7 L761.4,1363.1 L763.4,1362.6 L765.5,1362.0 L767.6,1361.5 L769.6,1361.0 L771.7,1360.4 L773.8,1359.9 L775.8,1359.4 L777.9,1358.8 L780.0,1358.3 L782.0,1357.8 L784.1,1357.3 L786.2,1356.8 L788.2,1356.2 L790.3,1355.7 L792.4,1355.2 L794.5,1354.7 L796.5,1354.2 L798.6,1353.7 L800.7,1353.2 L802.8,1352.7 L804.8,1352.2 L806.9,1351.7 L809.0,1351.2 L811.1,1350.7 L813.1,1350.2 L815.2,1349.8 L817.3,1349.3 L819.4,1348.8 L821.5,1348.3 L823.5,1347.9 L825.6,1347.4 L827.7,1346.9 L829.8,1346.4 L831.9,1346.0 L834.0,1345.5 L836.0,1345.1 L838.1,1344.6 L840.2,1344.2 L842.3,1343.7 L844.4,1343.3 L846.5,1342.8 L848.6,1342.4 L850.6,1341.9 L852.7,1341.5 L854.8,1341.1 L856.9,1340.6 L859.0,1340.2 L861.1,1339.8 L863.2,1339.3 L865.3,1338.9 L867.4,1338.5 L869.5,1338.1 L871.6,1337.7 L873.7,1337.3 L875.7,1336.8 L877.8,1336.4 L879.9,1336.0 L882.0,1335.6 L884.1,1335.2 L886.2,1334.8 L888.3,1334.4 L890.4,1334.1 L892.5,1333.7 L894.6,1333.3 L896.7,1332.9 L898.8,1332.5 L900.9,1332.1 L903.0,1331.8 L905.1,1331.4 L907.2,1331.0 L909.3,1330.6 L911.4,1330.3 L913.5,1329.9 L915.6,1329.6 L917.7,1329.2 L919.8,1328.9 L921.9,1328.5 L924.0,1328.2 L926.2,1327.8 L928.3,1327.5 L930.4,1327.1 L932.5,1326.8 L934.6,1326.5 L936.7,1326.1 L938.8,1325.8 L940.9,1325.5 L943.0,1325.1 L945.1,1324.8 L947.2,1324.5 L949.3,1324.2 L951.4,1323.9 L953.6,1323.6 L955.7,1323.3 L957.8,1323.0 L959.9,1322.7 L962.0,1322.4 L964.1,1322.1 L966.2,1321.8 L968.3,1321.5 L970.5,1321.2 L972.6,1320.9 L974.7,1320.6 L976.8,1320.3 L978.9,1320.1 L981.0,1319.8 L983.1,1319.5 L985.3,1319.3 L987.4,1319.0 L989.5,1318.7 L991.6,1318.5 L993.7,1318.2 L995.8,1318.0 L998.0,1317.7 L1000.1,1317.5 L1002.2,1317.2 L1004.3,1317.0 L1006.4,1316.7 L1008.5,1316.5 L1010.7,1316.3 L1012.8,1316.0 L1014.9,1315.8 L1017.0,1315.6 L1019.1,1315.4 L1021.3,1315.1 L1023.4,1314.9 L1025.5,1314.7 L1027.6,1314.5 L1029.7,1314.3 L1031.9,1314.1 L1034.0,1313.9 L1036.1,1313.7 L1038.2,1313.5 L1040.3,1313.3 L1042.5,1313.1 L1044.6,1312.9 L1046.7,1312.7 L1048.8,1312.6 L1051.0,1312.4 L1053.1,1312.2 L1055.2,1312.0 L1057.3,1311.9 L1059.5,1311.7 L1061.6,1311.5 L1063.7,1311.4 L1065.8,1311.2 L1068.0,1311.1 L1070.1,1310.9 L1072.2,1310.8 L1074.3,1310.6 L1076.5,1310.5 L1078.6,1310.3 L1080.7,1310.2 L1082.8,1310.1 L1085.0,1309.9 L1087.1,1309.8 L1089.2,1309.7 L1091.3,1309.6 L1093.5,1309.4 L1095.6,1309.3 L1097.7,1309.2 L1099.8,1309.1 L1102.0,1309.0 L1104.1,1308.9 L1106.2,1308.8 L1108.4,1308.7 L1110.5,1308.6 L1112.6,1308.5 L1114.7,1308.4 L1116.9,1308.4 L1119.0,1308.3 L1121.1,1308.2 L1123.3,1308.1 L1125.4,1308.0 L1127.5,1308.0 L1129.6,1307.9 L1131.8,1307.9 L1133.9,1307.8 L1136.0,1307.7 L1138.2,1307.7 L1140.3,1307.6 L1142.4,1307.6 L1144.5,1307.5 L1146.7,1307.5 L1148.8,1307.5 L1150.9,1307.4 L1153.1,1307.4 L1155.2,1307.4 L1157.3,1307.4 L1159.4,1307.3 L1161.6,1307.3 L1163.7,1307.3 L1165.8,1307.3 L1168.0,1307.3 L1170.1,1307.3 L1172.2,1307.3 L1174.4,1307.3 L1176.5,1307.3 L1178.6,1307.3 L1180.7,1307.3 L1182.9,1307.3 L1185.0,1307.3 L1187.1,1307.4 L1189.3,1307.4 L1191.4,1307.4 L1193.5,1307.4 L1195.6,1307.5 L1197.8,1307.5 L1199.9,1307.5 L1202.0,1307.6 L1204.2,1307.6 L1206.3,1307.7 L1208.4,1307.7 L1210.6,1307.8 L1212.7,1307.8 L1214.8,1307.9 L1216.9,1308.0 L1219.1,1308.0 L1221.2,1308.1 L1223.3,1308.2 L1225.5,1308.2 L1227.6,1308.3 L1229.7,1308.4 L1231.8,1308.5 L1234.0,1308.6 L1236.1,1308.7 L1238.2,1308.8 L1240.4,1308.9 L1242.5,1309.0 L1244.6,1309.1 L1246.7,1309.2 L1248.9,1309.3 L1251.0,1309.4 L1253.1,1309.5 L1255.2,1309.6 L1257.4,1309.7 L1259.5,1309.9 L1261.6,1310.0 L1263.8,1310.1 L1265.9,1310.3 L1268.0,1310.4 L1270.1,1310.5 L1272.3,1310.7 L1274.4,1310.8 L1276.5,1311.0 L1278.6,1311.1 L1280.8,1311.3 L1282.9,1311.4 L1285.0,1311.6 L1287.1,1311.8 L1289.3,1311.9 L1291.4,1312.1 L1293.5,1312.3 L1295.6,1312.4 L1297.8,1312.6 L1299.9,1312.8 L1302.0,1313.0 L1304.1,1313.2 L1306.3,1313.3 L1308.4,1313.5 L1310.5,1313.7 L1312.6,1313.9 L1314.7,1314.1 L1316.9,1314.3 L1319.0,1314.5 L1321.1,1314.7 L1323.2,1315.0 L1325.3,1315.2 L1327.5,1315.4 L1329.6,1315.6 L1331.7,1315.8 L1333.8,1316.1 L1336.0,1316.3 L1338.1,1316.5 L1340.2,1316.8 L1342.3,1317.0 L1344.4,1317.2 L1346.5,1317.5 L1348.7,1317.7 L1350.8,1318.0 L1352.9,1318.2 L1355.0,1318.5 L1357.1,1318.7 L1359.3,1319.0 L1361.4,1319.2 L1363.5,1319.5 L1365.6,1319.8 L1367.7,1320.1 L1369.8,1320.3 L1371.9,1320.6 L1374.1,1320.9 L1376.2,1321.2 L1378.3,1321.4 L1380.4,1321.7 L1382.5,1322.0 L1384.6,1322.3 L1386.7,1322.6 L1388.9,1322.9 L1391.0,1323.2 L1393.1,1323.5 L1395.2,1323.8 L1397.3,1324.1 L1399.4,1324.4 L1401.5,1324.8 L1403.6,1325.1 L1405.7,1325.4 L1407.8,1325.7 L1410.0,1326.0 L1412.1,1326.4 L1414.2,1326.7 L1416.3,1327.0 L1418.4,1327.4 L1420.5,1327.7 L1422.6,1328.0 L1424.7,1328.4 L1426.8,1328.7 L1428.9,1329.1 L1431.0,1329.4 L1433.1,1329.8 L1435.2,1330.1 L1437.3,1330.5 L1439.4,1330.9 L1441.5,1331.2 L1443.6,1331.6 L1445.7,1332.0 L1447.8,1332.3 L1449.9,1332.7 L1452.0,1333.1 L1454.1,1333.5 L1456.2,1333.8 L1458.3,1334.2 L1460.4,1334.6 L1462.5,1335.0 L1464.6,1335.4 L1466.7,1335.8 L1468.8,1336.2 L1470.9,1336.6 L1473.0,1337.0 L1475.1,1337.4 L1477.2,1337.8 L1479.3,1338.2 L1481.4,1338.6 L1483.5,1339.0 L1485.6,1339.5 L1487.7,1339.9 L1489.8,1340.3 L1491.9,1340.7 L1493.9,1341.2 L1496.0,1341.6 L1498.1,1342.0 L1500.2,1342.5 L1502.3,1342.9 L1504.4,1343.3 L1506.5,1343.8 L1508.6,1344.2 L1510.7,1344.7 L1512.7,1345.1 L1514.8,1345.6 L1516.9,1346.0 L1519.0,1346.5 L1521.1,1346.9 L1523.2,1347.4 L1525.2,1347.9 L1527.3,1348.3 L1529.4,1348.8 L1531.5,1349.3 L1533.6,1349.7 L1535.6,1350.2 L1537.7,1350.7 L1539.8,1351.2 L1541.9,1351.7 L1544.0,1352.2 L1546.0,1352.6 L1548.1,1353.1 L1550.2,1353.6 L1552.3,1354.1 L1554.3,1354.6 L1556.4,1355.1 L1558.5,1355.6 L1560.5,1356.1 L1562.6,1356.6 L1564.7,1357.1 L1566.8,1357.7 L1568.8,1358.2 L1570.9,1358.7 L1573.0,1359.2 L1575.0,1359.7 L1577.1,1360.3 L1579.2,1360.8 L1581.2,1361.3 L1583.3,1361.8 L1585.4,1362.4 L1587.4,1362.9 L1589.5,1363.4 L1591.5,1364.0 L1593.6,1364.5 L1595.7,1365.1 L1597.7,1365.6 L1599.8,1366.2 L1601.8,1366.7 L1603.9,1367.3 L1606.0,1367.8 L1608.0,1368.4 L1610.1,1368.9 L1612.1,1369.5 L1614.2,1370.1 L1616.2,1370.6 L1618.3,1371.2 L1620.3,1371.8 L1622.4,1372.4 L1624.4,1372.9 L1626.5,1373.5 L1628.5,1374.1 L1630.6,1374.7 L1632.6,1375.3 L1634.7,1375.8 L1636.7,1376.4 L1638.8,1377.0 L1640.8,1377.6 L1642.9,1378.2 L1644.9,1378.8 L1647.0,1379.4 L1649.0,1380.0 L1651.0,1380.6 L1653.1,1381.2 L1655.1,1381.8 L1657.2,1382.4 L1659.2,1383.1 L1661.2,1383.7 L1663.3,1384.3 L1665.3,1384.9 L1667.3,1385.5 L1669.4,1386.2 L1671.4,1386.8 L1673.4,1387.4 L1675.5,1388.0 L1677.5,1388.7 L1679.5,1389.3 L1681.6,1389.9 L1683.6,1390.6 L1685.6,1391.2 L1687.7,1391.9 L1689.7,1392.5 L1691.7,1393.2 L1693.7,1393.8 L1695.8,1394.5 L1697.8,1395.1 L1699.8,1395.8 L1701.8,1396.4 L1703.9,1397.1 L1705.9,1397.8 L1707.9,1398.4 L1709.9,1399.1 L1712.0,1399.8 L1714.0,1400.4 L1716.0,1401.1 L1718.0,1401.8 L1720.0,1402.5 L1722.0,1403.2 L1724.1,1403.8 L1726.1,1404.5 L1728.1,1405.2 L1730.1,1405.9 L1732.1,1406.6 L1734.1,1407.3 L1736.1,1408.0 L1738.1,1408.7 L1740.2,1409.4 L1742.2,1410.1 L1744.2,1410.8 L1746.2,1411.5 L1748.2,1412.2 L1750.2,1412.9 L1752.2,1413.6 L1754.2,1414.3 L1756.2,1415.0 L1758.2,1415.8 L1760.2,1416.5 L1762.2,1417.2 L1764.2,1417.9 L1766.2,1418.7 L1768.2,1419.4 L1770.2,1420.1 L1772.2,1420.9 L1774.2,1421.6 L1776.2,1422.3 L1778.2,1423.1 L1780.2,1423.8 L1782.2,1424.6 L1784.2,1425.3 L1786.2,1426.0 L1788.2,1426.8 L1790.2,1427.5 L1792.2,1428.3 L1794.1,1429.1 L1796.1,1429.8 L1798.1,1430.6 L1800.1,1431.3 L1802.1,1432.1 L1804.1,1432.9 L1806.1,1433.6 L1808.1,1434.4 L1810.0,1435.2 L1812.0,1436.0 L1814.0,1436.7 L1816.0,1437.5 L1818.0,1438.3 L1820.0,1439.1 L1821.9,1439.9 L1823.9,1440.6 L1825.9,1441.4 L1827.9,1442.2 L1829.8,1443.0 L1831.8,1443.8 L1833.8,1444.6 L1835.8,1445.4 L1837.7,1446.2 L1839.7,1447.0 L1841.7,1447.8 L1843.7,1448.6 L1845.6,1449.4 L1847.6,1450.2 L1849.6,1451.1 L1851.5,1451.9 L1853.5,1452.7 L1855.5,1453.5 L1857.4,1454.3 L1859.4,1455.1 L1861.4,1456.0 L1863.3,1456.8 L1865.3,1457.6 L1867.3,1458.5 L1869.2,1459.3 L1871.2,1460.1 L1873.1,1461.0 L1875.1,1461.8 L1877.1,1462.6 L1879.0,1463.5 L1881.0,1464.3 L1882.9,1465.2 L1884.9,1466.0 L1886.8,1466.9 L1888.8,1467.7 L1890.7,1468.6 L1892.7,1469.4 L1894.7,1470.3 L1896.6,1471.2 L1898.6,1472.0 L1900.5,1472.9 L1902.5,1473.7 L1904.4,1474.6 L1906.3,1475.5 L1908.3,1476.4 L1910.2,1477.2 L1912.2,1478.1 L1914.1,1479.0 L1916.1,1479.9 L1918.0,1480.7 L1920.0,1481.6 L1921.9,1482.5 L1923.8,1483.4 L1925.8,1484.3 L1927.7,1485.2 L1929.7,1486.1 L1931.6,1487.0 L1933.5,1487.9 L1935.5,1488.8 L1937.4,1489.7 L1939.3,1490.6 L1941.3,1491.5 L1943.2,1492.4 L1945.1,1493.3 L1947.1,1494.2 L1949.0,1495.1 L1950.9,1496.0 L1952.8,1496.9 L1954.8,1497.9 L1956.7,1498.8 L1958.6,1499.7 L1960.6,1500.6 L1962.5,1501.5 L1964.4,1502.5 L1966.3,1503.4 L1968.3,1504.3 L1970.2,1505.3 L1972.1,1506.2 L1974.0,1507.1 L1975.9,1508.1 L1977.9,1509.0 L1979.8,1509.9 L1981.7,1510.9 L1983.6,1511.8 L1985.5,1512.8 L1987.4,1513.7 L1989.3,1514.7 L1991.3,1515.6 L1993.2,1516.6 L1995.1,1517.5 L1997.0,1518.5" stroke="#ff0000" stroke-linecap="butt"/>
<path d="M363.0,1518.5 L365.1,1517.8 L367.3,1517.1 L369.4,1516.4 L371.6,1515.6 L373.7,1514.9 L375.9,1514.2 L378.0,1513.5 L380.2,1512.8 L382.3,1512.1 L384.4,1511.4 L386.6,1510.6 L388.7,1509.9 L390.9,1509.2 L393.0,1508.5 L395.2,1507.8 L397.3,1507.1 L399.5,1506.4 L401.6,1505.7 L403.8,1505.0 L405.9,1504.3 L408.0,1503.6 L410.2,1502.8 L412.3,1502.1 L414.5,1501.4 L416.6,1500.7 L418.8,1500.0 L420.9,1499.3 L423.1,1498.6 L425.2,1497.9 L427.4,1497.2 L429.5,1496.5 L431.7,1495.8 L433.8,1495.1 L436.0,1494.4 L438.1,1493.7 L440.3,1493.0 L442.4,1492.3 L444.6,1491.6 L446.7,1490.9 L448.9,1490.2 L451.1,1489.5 L453.2,1488.8 L455.4,1488.1 L457.5,1487.4 L459.7,1486.7 L461.8,1486.0 L464.0,1485.3 L466.1,1484.6 L468.3,1483.9 L470.4,1483.2 L472.6,1482.6 L474.7,1481.9 L476.9,1481.2 L479.1,1480.5 L481.2,1479.8 L483.4,1479.1 L485.5,1478.4 L487.7,1477.7 L489.8,1477.0 L492.0,1476.3 L494.2,1475.7 L496.3,1475.0 L498.5,1474.3 L500.6,1473.6 L502.8,1472.9 L504.9,1472.2 L507.1,1471.5 L509.3,1470.9 L511.4,1470.2 L513.6,1469.5 L515.7,1468.8 L517.9,1468.1 L520.1,1467.5 L522.2,1466.8 L524.4,1466.1 L526.5,1465.4 L528.7,1464.7 L530.9,1464.1 L533.0,1463.4 L535.2,1462.7 L537.4,1462.0 L539.5,1461.4 L541.7,1460.7 L543.8,1460.0 L546.0,1459.3 L548.2,1458.7 L550.3,1458.0 L552.5,1457.3 L554.7,1456.7 L556.8,1456.0 L559.0,1455.3 L561.2,1454.7 L563.3,1454.0 L565.5,1453.3 L567.7,1452.6 L569.8,1452.0 L572.0,1451.3 L574.2,1450.7 L576.3,1450.0 L578.5,1449.3 L580.7,1448.7 L582.8,1448.0 L585.0,1447.3 L587.2,1446.7 L589.3,1446.0 L591.5,1445.4 L593.7,1444.7 L595.8,1444.0 L598.0,1443.4 L600.2,1442.7 L602.4,1442.1 L604.5,1441.4 L606.7,1440.8 L608.9,1440.1 L611.0,1439.5 L613.2,1438.8 L615.4,1438.2 L617.5,1437.5 L619.7,1436.9 L621.9,1436.2 L624.1,1435.6 L626.2,1434.9 L628.4,1434.3 L630.6,1433.6 L632.8,1433.0 L634.9,1432.3 L637.1,1431.7 L639.3,1431.0 L641.5,1430.4 L643.6,1429.7 L645.8,1429.1 L648.0,1428.5 L650.2,1427.8 L652.3,1427.2 L654.5,1426.5 L656.7,1425.9 L658.9,1425.3 L661.0,1424.6 L663.2,1424.0 L665.4,1423.4 L667.6,1422.7 L669.7,1422.1 L671.9,1421.5 L674.1,1420.8 L676.3,1420.2 L678.5,1419.6 L680.6,1418.9 L682.8,1418.3 L685.0,1417.7 L687.2,1417.1 L689.4,1416.4 L691.5,1415.8 L693.7,1415.2 L695.9,1414.6 L698.1,1413.9 L700.3,1413.3 L702.4,1412.7 L704.6,1412.1 L706.8,1411.4 L709.0,1410.8 L711.2,1410.2 L713.3,1409.6 L715.5,1409.0 L717.7,1408.4 L719.9,1407.7 L722.1,1407.1 L724.3,1406.5 L726.4,1405.9 L728.6,1405.3 L730.8,1404.7 L733.0,1404.1 L735.2,1403.5 L737.4,1402.8 L739.6,1402.2 L741.7,1401.6 L743.9,1401.0 L746.1,1400.4 L748.3,1399.8 L750.5,1399.2 L752.7,1398.6 L754.9,1398.0 L757.0,1397.4 L759.2,1396.8 L761.4,1396.2 L763.6,1395.6 L765.8,1395.0 L768.0,1394.4 L770.2,1393.8 L772.4,1393.2 L774.5,1392.6 L776.7,1392.0 L778.9,1391.4 L781.1,1390.9 L783.3,1390.3 L785.5,1389.7 L787.7,1389.1 L789.9,1388.5 L792.1,1387.9 L794.3,1387.3 L796.4,1386.7 L798.6,1386.2 L800.8,1385.6 L803.0,1385.0 L805.2,1384.4 L807.4,1383.8 L809.6,1383.3 L811.8,1382.7 L814.0,1382.1 L816.2,1381.5 L818.4,1380.9 L820.6,1380.4 L822.8,1379.8 L825.0,1379.2 L827.1,1378.7 L829.3,1378.1 L831.5,1377.5 L833.7,1376.9 L835.9,1376.4 L838.1,1375.8 L840.3,1375.2 L842.5,1374.7 L844.7,1374.1 L846.9,1373.5 L849.1,1373.0 L851.3,1372.4 L853.5,1371.9 L855.7,1371.3 L857.9,1370.7 L860.1,1370.2 L862.3,1369.6 L864.5,1369.1 L866.7,1368.5 L868.9,1368.0 L871.1,1367.4 L873.3,1366.9 L875.5,1366.3 L877.7,1365.8 L879.9,1365.2 L882.1,1364.7 L884.3,1364.1 L886.5,1363.6 L888.7,1363.0 L890.9,1362.5 L893.1,1361.9 L895.3,1361.4 L897.5,1360.9 L899.7,1360.3 L901.9,1359.8 L904.1,1359.3 L906.3,1358.7 L908.5,1358.2 L910.7,1357.6 L912.9,1357.1 L915.1,1356.6 L917.3,1356.0 L919.5,1355.5 L921.7,1355.0 L923.9,1354.5 L926.1,1353.9 L928.3,1353.4 L930.5,1352.9 L932.7,1352.4 L935.0,1351.8 L937.2,1351.3 L939.4,1350.8 L941.6,1350.3 L943.8,1349.8 L946.0,1349.2 L948.2,1348.7 L950.4,1348.2 L952.6,1347.7 L954.8,1347.2 L957.0,1346.7 L959.2,1346.2 L961.4,1345.7 L963.6,1345.1 L965.9,1344.6 L968.1,1344.1 L970.3,1343.6 L972.5,1343.1 L974.7,1342.6 L976.9,1342.1 L979.1,1341.6 L981.3,1341.1 L983.5,1340.6 L985.7,1340.1 L988.0,1339.6 L990.2,1339.1 L992.4,1338.6 L994.6,1338.1 L996.8,1337.7 L999.0,1337.2 L1001.2,1336.7 L1003.4,1336.2 L1005.7,1335.7 L1007.9,1335.2 L1010.1,1334.7 L1012.3,1334.2 L1014.5,1333.8 L1016.7,1333.3 L1018.9,1332.8 L1021.1,1332.3 L1023.4,1331.8 L1025.6,1331.4 L1027.8,1330.9 L1030.0,1330.4 L1032.2,1329.9 L1034.4,1329.5 L1036.6,1329.0 L1038.9,1328.5 L1041.1,1328.1 L1043.3,1327.6 L1045.5,1327.1 L1047.7,1326.7 L1049.9,1326.2 L1052.2,1325.7 L1054.4,1325.3 L1056.6,1324.8 L1058.8,1324.4 L1061.0,1323.9 L1063.3,1323.4 L1065.5,1323.0 L1067.7,1322.5 L1069.9,1322.1 L1072.1,1321.6 L1074.3,1321.2 L1076.6,1320.7 L1078.8,1320.3 L1081.0,1319.8 L1083.2,1319.4 L1085.4,1319.0 L1087.7,1318.5 L1089.9,1318.1 L1092.1,1317.6 L1094.3,1317.2 L1096.6,1316.8 L1098.8,1316.3 L1101.0,1315.9 L1103.2,1315.4 L1105.4,1315.0 L1107.7,1314.6 L1109.9,1314.2 L1112.1,1313.7 L1114.3,1313.3 L1116.6,1312.9 L1118.8,1312.4 L1121.0,1312.0 L1123.2,1311.6 L1125.5,1311.2 L1127.7,1310.8 L1129.9,1310.3 L1132.1,1309.9 L1134.4,1309.5 L1136.6,1309.1 L1138.8,1308.7 L1141.0,1308.3 L1143.3,1307.9 L1145.5,1307.4 L1147.7,1307.0 L1149.9,1306.6 L1152.2,1306.2 L1154.4,1305.8 L1156.6,1305.4 L1158.8,1305.0 L1161.1,1304.6 L1163.3,1304.2 L1165.5,1303.8 L1167.8,1303.4 L1170.0,1303.0 L1172.2,1302.6 L1174.4,1302.2 L1176.7,1301.9 L1178.9,1301.5 L1181.1,1301.1 L1183.4,1300.7 L1185.6,1300.3 L1187.8,1299.9 L1190.0,1299.5 L1192.3,1299.2 L1194.5,1298.8 L1196.7,1298.4 L1199.0,1298.0 L1201.2,1297.6 L1203.4,1297.3 L1205.7,1296.9 L1207.9,1296.5 L1210.1,1296.2 L1212.4,1295.8 L1214.6,1295.4 L1216.8,1295.0 L1219.1,1294.7 L1221.3,1294.3 L1223.5,1294.0 L1225.8,1293.6 L1228.0,1293.2 L1230.2,1292.9 L1232.5,1292.5 L1234.7,1292.2 L1236.9,1291.8 L1239.2,1291.5 L1241.4,1291.1 L1243.6,1290.8 L1245.9,1290.4 L1248.1,1290.1 L1250.3,1289.7 L1252.6,1289.4 L1254.8,1289.0 L1257.1,1288.7 L1259.3,1288.4 L1261.5,1288.0 L1263.8,1287.7 L1266.0,1287.3 L1268.2,1287.0 L1270.5,1286.7 L1272.7,1286.4 L1275.0,1286.0 L1277.2,1285.7 L1279.4,1285.4 L1281.7,1285.0 L1283.9,1284.7 L1286.1,1284.4 L1288.4,1284.1 L1290.6,1283.8 L1292.9,1283.4 L1295.1,1283.1 L1297.3,1282.8 L1299.6,1282.5 L1301.8,1282.2 L1304.1,1281.9 L1306.3,1281.6 L1308.5,1281.3 L1310.8,1281.0 L1313.0,1280.7 L1315.3,1280.3 L1317.5,1280.0 L1319.8,1279.7 L1322.0,1279.4 L1324.2,1279.2 L1326.5,1278.9 L1328.7,1278.6 L1331.0,1278.3 L1333.2,1278.0 L1335.5,1277.7 L1337.7,1277.4 L1339.9,1277.1 L1342.2,1276.8 L1344.4,1276.6 L1346.7,1276.3 L1348.9,1276.0 L1351.2,1275.7 L1353.4,1275.4 L1355.7,1275.2 L1357.9,1274.9 L1360.1,1274.6 L1362.4,1274.4 L1364.6,1274.1 L1366.9,1273.8 L1369.1,1273.6 L1371.4,1273.3 L1373.6,1273.0 L1375.9,1272.8 L1378.1,1272.5 L1380.4,1272.3 L1382.6,1272.0 L1384.9,1271.8 L1387.1,1271.5 L1389.4,1271.3 L1391.6,1271.0 L1393.9,1270.8 L1396.1,1270.6 L1398.4,1270.3 L1400.6,1270.1 L1402.9,1269.9 L1405.1,1269.6 L1407.4,1269.4 L1409.6,1269.2 L1411.9,1269.0 L1414.1,1268.7 L1416.4,1268.5 L1418.6,1268.3 L1420.9,1268.1 L1423.1,1267.9 L1425.4,1267.7 L1427.6,1267.5 L1429.9,1267.3 L1432.1,1267.1 L1434.4,1266.9 L1436.6,1266.7 L1438.9,1266.5 L1441.1,1266.3 L1443.4,1266.1 L1445.6,1265.9 L1447.9,1265.7 L1450.1,1265.6 L1452.4,1265.4 L1454.6,1265.2 L1456.9,1265.0 L1459.1,1264.9 L1461.4,1264.7 L1463.6,1264.5 L1465.9,1264.4 L1468.2,1264.2 L1470.4,1264.1 L1472.7,1263.9 L1474.9,1263.8 L1477.2,1263.6 L1479.4,1263.5 L1481.7,1263.3 L1483.9,1263.2 L1486.2,1263.1 L1488.5,1262.9 L1490.7,1262.8 L1493.0,1262.7 L1495.2,1262.5 L1497.5,1262.4 L1499.7,1262.3 L1502.0,1262.2 L1504.3,1262.1 L1506.5,1262.0 L1508.8,1261.9 L1511.0,1261.8 L1513.3,1261.7 L1515.5,1261.6 L1517.8,1261.5 L1520.1,1261.4 L1522.3,1261.3 L1524.6,1261.2 L1526.8,1261.2 L1529.1,1261.1 L1531.3,1261.0 L1533.6,1260.9 L1535.9,1260.9 L1538.1,1260.8 L1540.4,1260.8 L1542.6,1260.7 L1544.9,1260.7 L1547.2,1260.6 L1549.4,1260.6 L1551.7,1260.5 L1553.9,1260.5 L1556.2,1260.5 L1558.5,1260.4 L1560.7,1260.4 L1563.0,1260.4 L1565.3,1260.4 L1567.5,1260.3 L1569.8,1260.3 L1572.0,1260.3 L1574.3,1260.3 L1576.6,1260.3 L1578.8,1260.3 L1581.1,1260.3 L1583.4,1260.4 L1585.6,1260.4 L1587.9,1260.4 L1590.1,1260.4 L1592.4,1260.4 L1594.7,1260.5 L1596.9,1260.5 L1599.2,1260.5 L1601.5,1260.6 L1603.7,1260.6 L1606.0,1260.7 L1608.2,1260.7 L1610.5,1260.8 L1612.8,1260.9 L1615.0,1260.9 L1617.3,1261.0 L1619.6,1261.1 L1621.8,1261.2 L1624.1,1261.3 L1626.4,1261.3 L1628.6,1261.4 L1630.9,1261.5 L1633.2,1261.6 L1635.4,1261.7 L1637.7,1261.9 L1640.0,1262.0 L1642.2,1262.1 L1644.5,1262.2 L1646.8,1262.3 L1649.0,1262.5 L1651.3,1262.6 L1653.6,1262.8 L1655.8,1262.9 L1658.1,1263.1 L1660.4,1263.2 L1662.6,1263.4 L1664.9,1263.5 L1667.2,1263.7 L1669.4,1263.9 L1671.7,1264.1 L1674.0,1264.2 L1676.2,1264.4 L1678.5,1264.6 L1680.8,1264.8 L1683.1,1265.0 L1685.3,1265.2 L1687.6,1265.4 L1689.9,1265.7 L1692.1,1265.9 L1694.4,1266.1 L1696.7,1266.3 L1698.9,1266.6 L1701.2,1266.8 L1703.5,1267.1 L1705.7,1267.3 L1708.0,1267.6 L1710.3,1267.8 L1712.6,1268.1 L1714.8,1268.4 L1717.1,1268.7 L1719.4,1268.9 L1721.6,1269.2 L1723.9,1269.5 L1726.2,1269.8 L1728.5,1270.1 L1730.7,1270.4 L1733.0,1270.7 L1735.3,1271.1 L1737.5,1271.4 L1739.8,1271.7 L1742.1,1272.0 L1744.4,1272.4 L1746.6,1272.7 L1748.9,1273.1 L1751.2,1273.4 L1753.4,1273.8 L1755.7,1274.2 L1758.0,1274.5 L1760.3,1274.9 L1762.5,1275.3 L1764.8,1275.7 L1767.1,1276.1 L1769.4,1276.5 L1771.6,1276.9 L1773.9,1277.3 L1776.2,1277.7 L1778.4,1278.1 L1780.7,1278.6 L1783.0,1279.0 L1785.2,1279.4 L1787.5,1279.9 L1789.8,1280.4 L1792.0,1280.8 L1794.3,1281.3 L1796.5,1281.8 L1798.8,1282.3 L1801.0,1282.8 L1803.3,1283.3 L1805.5,1283.8 L1807.8,1284.4 L1810.0,1284.9 L1812.2,1285.4 L1814.5,1286.0 L1816.7,1286.6 L1818.9,1287.1 L1821.1,1287.7 L1823.4,1288.3 L1825.6,1288.9 L1827.8,1289.6 L1830.0,1290.2 L1832.2,1290.8 L1834.3,1291.5 L1836.5,1292.2 L1838.7,1292.8 L1840.9,1293.5 L1843.0,1294.2 L1845.2,1294.9 L1847.3,1295.7 L1849.5,1296.4 L1851.6,1297.2 L1853.8,1297.9 L1855.9,1298.7 L1858.0,1299.5 L1860.1,1300.3 L1862.2,1301.1 L1864.3,1302.0 L1866.4,1302.8 L1868.5,1303.7 L1870.5,1304.6 L1872.6,1305.5 L1874.6,1306.4 L1876.7,1307.3 L1878.7,1308.2 L1880.7,1309.2 L1882.7,1310.1 L1884.7,1311.1 L1886.7,1312.1 L1888.7,1313.2 L1890.7,1314.2 L1892.7,1315.2 L1894.6,1316.3 L1896.6,1317.4 L1898.5,1318.5 L1900.4,1319.6 L1902.3,1320.8 L1904.2,1321.9 L1906.1,1323.1 L1908.0,1324.3 L1909.8,1325.5 L1911.7,1326.7 L1913.5,1328.0 L1915.3,1329.2 L1917.2,1330.5 L1919.0,1331.8 L1920.7,1333.1 L1922.5,1334.5 L1924.3,1335.9 L1926.0,1337.2 L1927.8,1338.6 L1929.5,1340.1 L1931.2,1341.5 L1932.9,1343.0 L1934.6,1344.5 L1936.2,1346.0 L1937.9,1347.5 L1939.5,1349.1 L1941.1,1350.6 L1942.7,1352.2 L1944.3,1353.8 L1945.8,1355.5 L1947.4,1357.1 L1948.9,1358.8 L1950.4,1360.5 L1951.9,1362.2 L1953.4,1363.9 L1954.8,1365.7 L1956.2,1367.5 L1957.6,1369.3 L1959.0,1371.1 L1960.3,1372.9 L1961.6,1374.7 L1962.9,1376.6 L1964.2,1378.5 L1965.4,1380.4 L1966.6,1382.3 L1967.8,1384.2 L1968.9,1386.2 L1970.1,1388.1 L1971.1,1390.1 L1972.2,1392.1 L1973.2,1394.1 L1974.2,1396.2 L1975.2,1398.2 L1976.2,1400.3 L1977.1,1402.3 L1978.0,1404.4 L1978.8,1406.5 L1979.6,1408.6 L1980.4,1410.7 L1981.2,1412.9 L1981.9,1415.0 L1982.7,1417.2 L1983.3,1419.3 L1984.0,1421.5 L1984.6,1423.7 L1985.2,1425.9 L1985.8,1428.1 L1986.4,1430.3 L1986.9,1432.5 L1987.4,1434.8 L1987.8,1437.0 L1988.3,1439.2 L1988.7,1441.5 L1989.1,1443.7 L1989.4,1446.0 L1989.8,1448.2 L1990.1,1450.5 L1990.4,1452.8 L1990.7,1455.0 L1991.0,1457.3 L1991.2,1459.6 L1991.4,1461.9 L1991.7,1464.2 L1991.8,1466.4 L1992.0,1468.7 L1992.2,1471.0 L1992.3,1473.3 L1992.5,1475.6 L1992.6,1477.9 L1992.7,1480.2 L1992.8,1482.5 L1992.9,1484.7 L1993.0,1487.0 L1993.0,1489.3 L1993.1,1491.6 L1993.2,1493.8 L1993.2,1496.1 L1993.2,1498.4 L1993.3,1500.6 L1993.3,1502.9 L1993.3,1505.1 L1993.4,1507.4 L1993.4,1509.6 L1993.4,1511.8 L1993.4,1514.1 L1993.4,1516.3 L1993.5,1518.5" stroke="#ff0000" stroke-dasharray="21.5 27" stroke-dashoffset="-10.75" stroke-linecap="round" stroke-width="11.5"/>
<path d="M363.0,1518.5 L363.5,1515.7 L364.0,1512.9 L364.4,1510.0 L364.9,1507.2 L365.3,1504.4 L365.8,1501.5 L366.2,1498.7 L366.6,1495.8 L367.1,1492.9 L367.5,1490.1 L367.9,1487.2 L368.3,1484.3 L368.8,1481.4 L369.2,1478.6 L369.6,1475.7 L370.0,1472.8 L370.4,1469.9 L370.8,1467.0 L371.2,1464.1 L371.5,1461.2 L371.9,1458.3 L372.3,1455.4 L372.7,1452.5 L373.1,1449.6 L373.5,1446.7 L373.9,1443.8 L374.2,1440.8 L374.6,1437.9 L375.0,1435.0 L375.4,1432.1 L375.7,1429.2 L376.1,1426.3 L376.5,1423.4 L376.9,1420.5 L377.3,1417.5 L377.6,1414.6 L378.0,1411.7 L378.4,1408.8 L378.8,1405.9 L379.2,1403.0 L379.6,1400.1 L380.0,1397.2 L380.4,1394.3 L380.8,1391.4 L381.2,1388.5 L381.6,1385.6 L382.0,1382.7 L382.4,1379.8 L382.8,1376.9 L383.2,1374.1 L383.7,1371.2 L384.1,1368.3 L384.5,1365.5 L385.0,1362.6 L385.4,1359.7 L385.9,1356.9 L386.3,1354.0 L386.8,1351.2 L387.3,1348.4 L387.7,1345.5 L388.2,1342.7 L388.7,1339.9 L389.2,1337.0 L389.7,1334.2 L390.2,1331.4 L390.7,1328.6 L391.3,1325.8 L391.8,1322.9 L392.4,1320.1 L392.9,1317.3 L393.5,1314.5 L394.0,1311.7 L394.6,1308.9 L395.2,1306.1 L395.8,1303.3 L396.4,1300.5 L397.1,1297.7 L397.7,1294.9 L398.3,1292.1 L399.0,1289.3 L399.6,1286.5 L400.3,1283.7 L401.0,1280.9 L401.7,1278.1 L402.4,1275.3 L403.1,1272.5 L403.9,1269.7 L404.6,1266.8 L405.4,1264.0 L406.2,1261.2 L406.9,1258.4 L407.7,1255.6 L408.6,1252.8 L409.4,1249.9 L410.2,1247.1 L411.1,1244.3 L412.0,1241.4 L412.8,1238.6 L413.7,1235.7 L414.7,1232.9 L415.6,1230.0 L416.5,1227.2 L417.5,1224.3 L418.5,1221.5 L419.5,1218.6 L420.5,1215.7 L421.5,1212.8 L422.6,1210.0 L423.7,1207.1 L424.7,1204.2 L425.9,1201.4 L427.0,1198.5 L428.2,1195.7 L429.4,1192.9 L430.6,1190.1 L431.9,1187.3 L433.1,1184.6 L434.5,1181.9 L435.8,1179.2 L437.2,1176.6 L438.6,1173.9 L440.1,1171.4 L441.6,1168.8 L443.1,1166.4 L444.7,1163.9 L446.3,1161.5 L448.0,1159.2 L449.7,1156.9 L451.5,1154.7 L453.3,1152.5 L455.2,1150.4 L457.1,1148.3 L459.0,1146.4 L461.1,1144.5 L463.1,1142.6 L465.2,1140.9 L467.4,1139.2 L469.7,1137.6 L472.0,1136.1 L474.3,1134.6 L476.7,1133.3 L479.2,1132.0 L481.7,1130.9 L484.2,1129.8 L486.8,1128.8 L489.4,1127.9 L492.1,1127.1 L494.8,1126.3 L497.5,1125.7 L500.2,1125.1 L503.0,1124.7 L505.8,1124.3 L508.6,1124.1 L511.4,1123.9 L514.2,1123.8 L517.0,1123.8 L519.8,1123.9 L522.6,1124.1 L525.4,1124.4 L528.2,1124.8 L531.1,1125.3 L533.9,1125.8 L536.7,1126.4 L539.5,1127.1 L542.3,1127.8 L545.1,1128.7 L547.9,1129.6 L550.7,1130.5 L553.5,1131.5 L556.3,1132.6 L559.1,1133.7 L561.9,1134.8 L564.7,1136.1 L567.4,1137.3 L570.2,1138.6 L572.9,1139.9 L575.6,1141.3 L578.3,1142.7 L581.0,1144.2 L583.7,1145.6 L586.4,1147.1 L589.0,1148.6 L591.7,1150.1 L594.3,1151.7 L596.9,1153.2 L599.5,1154.8 L602.0,1156.4 L604.6,1158.0 L607.1,1159.5 L609.6,1161.1 L612.1,1162.7 L614.5,1164.3 L617.0,1165.9 L619.4,1167.5 L621.9,1169.1 L624.3,1170.7 L626.7,1172.3 L629.1,1173.9 L631.5,1175.5 L633.9,1177.1 L636.3,1178.7 L638.7,1180.3 L641.1,1181.9 L643.5,1183.5 L645.9,1185.1 L648.3,1186.7 L650.7,1188.3 L653.1,1189.9 L655.5,1191.5 L657.9,1193.1 L660.3,1194.6 L662.8,1196.2 L665.2,1197.8 L667.6,1199.4 L670.0,1201.0 L672.4,1202.5 L674.9,1204.1 L677.3,1205.7 L679.7,1207.2 L682.2,1208.8 L684.6,1210.4 L687.1,1211.9 L689.5,1213.5 L692.0,1215.0 L694.4,1216.6 L696.9,1218.1 L699.3,1219.7 L701.8,1221.2 L704.3,1222.8 L706.7,1224.3 L709.2,1225.8 L711.7,1227.4 L714.1,1228.9 L716.6,1230.4 L719.1,1231.9 L721.6,1233.4 L724.1,1234.9 L726.6,1236.5 L729.1,1238.0 L731.5,1239.5 L734.0,1241.0 L736.5,1242.4 L739.1,1243.9 L741.6,1245.4 L744.1,1246.9 L746.6,1248.4 L749.1,1249.9 L751.6,1251.3 L754.1,1252.8 L756.7,1254.2 L759.2,1255.7 L761.7,1257.2 L764.2,1258.6 L766.8,1260.0 L769.3,1261.5 L771.9,1262.9 L774.4,1264.3 L776.9,1265.8 L779.5,1267.2 L782.0,1268.6 L784.6,1270.0 L787.2,1271.4 L789.7,1272.8 L792.3,1274.2 L794.8,1275.6 L797.4,1277.0 L800.0,1278.4 L802.6,1279.7 L805.1,1281.1 L807.7,1282.5 L810.3,1283.8 L812.9,1285.2 L815.5,1286.5 L818.1,1287.8 L820.7,1289.2 L823.3,1290.5 L825.9,1291.8 L828.5,1293.1 L831.1,1294.4 L833.7,1295.7 L836.3,1297.0 L838.9,1298.3 L841.5,1299.6 L844.1,1300.9 L846.8,1302.2 L849.4,1303.4 L852.0,1304.7 L854.7,1305.9 L857.3,1307.2 L859.9,1308.4 L862.6,1309.7 L865.2,1310.9 L867.9,1312.1 L870.5,1313.3 L873.2,1314.5 L875.8,1315.7 L878.5,1316.9 L881.1,1318.1 L883.8,1319.3 L886.5,1320.4 L889.1,1321.6 L891.8,1322.8 L894.5,1323.9 L897.2,1325.0 L899.8,1326.2 L902.5,1327.3 L905.2,1328.4 L907.9,1329.5 L910.6,1330.6 L913.3,1331.7 L916.0,1332.8 L918.7,1333.9 L921.4,1335.0 L924.1,1336.0 L926.8,1337.1 L929.5,1338.1 L932.2,1339.2 L935.0,1340.2 L937.7,1341.3 L940.4,1342.3 L943.1,1343.3 L945.9,1344.3 L948.6,1345.3 L951.3,1346.3 L954.1,1347.3 L956.8,1348.3 L959.5,1349.3 L962.3,1350.3 L965.0,1351.2 L967.8,1352.2 L970.5,1353.1 L973.3,1354.1 L976.0,1355.0 L978.8,1356.0 L981.5,1356.9 L984.3,1357.8 L987.1,1358.7 L989.8,1359.6 L992.6,1360.5 L995.3,1361.4 L998.1,1362.3 L1000.9,1363.2 L1003.7,1364.1 L1006.4,1365.0 L1009.2,1365.8 L1012.0,1366.7 L1014.8,1367.6 L1017.6,1368.4 L1020.4,1369.3 L1023.1,1370.1 L1025.9,1370.9 L1028.7,1371.8 L1031.5,1372.6 L1034.3,1373.4 L1037.1,1374.2 L1039.9,1375.0 L1042.7,1375.8 L1045.5,1376.6 L1048.3,1377.4 L1051.1,1378.2 L1053.9,1379.0 L1056.7,1379.8 L1059.5,1380.5 L1062.3,1381.3 L1065.2,1382.1 L1068.0,1382.8 L1070.8,1383.6 L1073.6,1384.3 L1076.4,1385.1 L1079.2,1385.8 L1082.1,1386.5 L1084.9,1387.3 L1087.7,1388.0 L1090.5,1388.7 L1093.3,1389.4 L1096.2,1390.1 L1099.0,1390.8 L1101.8,1391.5 L1104.7,1392.2 L1107.5,1392.9 L1110.3,1393.6 L1113.2,1394.3 L1116.0,1395.0 L1118.8,1395.6 L1121.7,1396.3 L1124.5,1397.0 L1127.3,1397.6 L1130.2,1398.3 L1133.0,1398.9 L1135.9,1399.6 L1138.7,1400.2 L1141.5,1400.9 L1144.4,1401.5 L1147.2,1402.1 L1150.1,1402.8 L1152.9,1403.4 L1155.8,1404.0 L1158.6,1404.6 L1161.5,1405.2 L1164.3,1405.8 L1167.2,1406.4 L1170.0,1407.0 L1172.9,1407.6 L1175.7,1408.2 L1178.6,1408.8 L1181.4,1409.4 L1184.3,1410.0 L1187.1,1410.6 L1190.0,1411.2 L1192.8,1411.7 L1195.7,1412.3 L1198.5,1412.9 L1201.4,1413.4 L1204.3,1414.0 L1207.1,1414.6 L1210.0,1415.1 L1212.8,1415.7 L1215.7,1416.2 L1218.5,1416.7 L1221.4,1417.3 L1224.3,1417.8 L1227.1,1418.4 L1230.0,1418.9 L1232.9,1419.4 L1235.7,1419.9 L1238.6,1420.5 L1241.4,1421.0 L1244.3,1421.5 L1247.2,1422.0 L1250.0,1422.5 L1252.9,1423.0 L1255.8,1423.5 L1258.6,1424.0 L1261.5,1424.5 L1264.4,1425.0 L1267.2,1425.5 L1270.1,1426.0 L1273.0,1426.4 L1275.9,1426.9 L1278.7,1427.4 L1281.6,1427.9 L1284.5,1428.3 L1287.3,1428.8 L1290.2,1429.3 L1293.1,1429.7 L1296.0,1430.2 L1298.8,1430.6 L1301.7,1431.1 L1304.6,1431.5 L1307.5,1432.0 L1310.3,1432.4 L1313.2,1432.9 L1316.1,1433.3 L1319.0,1433.8 L1321.8,1434.2 L1324.7,1434.6 L1327.6,1435.0 L1330.5,1435.5 L1333.3,1435.9 L1336.2,1436.3 L1339.1,1436.7 L1342.0,1437.1 L1344.9,1437.5 L1347.8,1437.9 L1350.6,1438.4 L1353.5,1438.8 L1356.4,1439.2 L1359.3,1439.5 L1362.2,1439.9 L1365.0,1440.3 L1367.9,1440.7 L1370.8,1441.1 L1373.7,1441.5 L1376.6,1441.9 L1379.5,1442.3 L1382.4,1442.6 L1385.2,1443.0 L1388.1,1443.4 L1391.0,1443.7 L1393.9,1444.1 L1396.8,1444.5 L1399.7,1444.8 L1402.6,1445.2 L1405.5,1445.5 L1408.3,1445.9 L1411.2,1446.3 L1414.1,1446.6 L1417.0,1446.9 L1419.9,1447.3 L1422.8,1447.6 L1425.7,1448.0 L1428.6,1448.3 L1431.5,1448.6 L1434.4,1449.0 L1437.3,1449.3 L1440.1,1449.6 L1443.0,1450.0 L1445.9,1450.3 L1448.8,1450.6 L1451.7,1450.9 L1454.6,1451.3 L1457.5,1451.6 L1460.4,1451.9 L1463.3,1452.2 L1466.2,1452.5 L1469.1,1452.8 L1472.0,1453.1 L1474.9,1453.4 L1477.8,1453.7 L1480.7,1454.0 L1483.6,1454.3 L1486.5,1454.6 L1489.4,1454.9 L1492.3,1455.2 L1495.2,1455.5 L1498.1,1455.8 L1501.0,1456.1 L1503.9,1456.3 L1506.8,1456.6 L1509.7,1456.9 L1512.6,1457.2 L1515.5,1457.5 L1518.4,1457.7 L1521.3,1458.0 L1524.2,1458.3 L1527.1,1458.5 L1530.0,1458.8 L1532.9,1459.1 L1535.8,1459.3 L1538.7,1459.6 L1541.6,1459.9 L1544.5,1460.1 L1547.4,1460.4 L1550.3,1460.6 L1553.2,1460.9 L1556.1,1461.1 L1559.0,1461.4 L1561.9,1461.6 L1564.8,1461.9 L1567.7,1462.1 L1570.6,1462.4 L1573.5,1462.6 L1576.4,1462.8 L1579.3,1463.1 L1582.2,1463.3 L1585.1,1463.6 L1588.0,1463.8 L1590.9,1464.0 L1593.8,1464.3 L1596.7,1464.5 L1599.6,1464.7 L1602.5,1464.9 L1605.4,1465.2 L1608.3,1465.4 L1611.3,1465.6 L1614.2,1465.8 L1617.1,1466.1 L1620.0,1466.3 L1622.9,1466.5 L1625.8,1466.7 L1628.7,1466.9 L1631.6,1467.1 L1634.5,1467.3 L1637.4,1467.6 L1640.3,1467.8 L1643.2,1468.0 L1646.1,1468.2 L1649.0,1468.4 L1651.9,1468.6 L1654.8,1468.8 L1657.8,1469.0 L1660.7,1469.2 L1663.6,1469.4 L1666.5,1469.6 L1669.4,1469.8 L1672.3,1470.0 L1675.2,1470.2 L1678.1,1470.4 L1681.0,1470.6 L1683.9,1470.8 L1686.8,1471.0 L1689.7,1471.2 L1692.6,1471.4 L1695.6,1471.5 L1698.5,1471.7 L1701.4,1471.9 L1704.3,1472.1 L1707.2,1472.3 L1710.1,1472.5 L1713.0,1472.7 L1715.9,1472.8 L1718.8,1473.0 L1721.7,1473.2 L1724.6,1473.4 L1727.5,1473.6 L1730.4,1473.7 L1733.4,1473.9 L1736.3,1474.1 L1739.2,1474.3 L1742.1,1474.5 L1745.0,1474.6 L1747.9,1474.8 L1750.8,1475.0 L1753.7,1475.2 L1756.6,1475.3 L1759.5,1475.5 L1762.4,1475.7 L1765.3,1475.8 L1768.2,1476.0 L1771.2,1476.2 L1774.1,1476.4 L1777.0,1476.5 L1779.9,1476.7 L1782.8,1476.9 L1785.7,1477.0 L1788.6,1477.2 L1791.5,1477.4 L1794.4,1477.5 L1797.3,1477.7 L1800.2,1477.8 L1803.1,1478.0 L1806.0,1478.2 L1809.0,1478.3 L1811.9,1478.5 L1814.8,1478.6 L1817.7,1478.8 L1820.6,1479.0 L1823.5,1479.1 L1826.4,1479.3 L1829.3,1479.4 L1832.2,1479.6 L1835.1,1479.7 L1838.0,1479.9 L1840.9,1480.1 L1843.8,1480.2 L1846.7,1480.4 L1849.7,1480.5 L1852.6,1480.7 L1855.5,1480.8 L1858.4,1481.0 L1861.3,1481.1 L1864.2,1481.3 L1867.1,1481.4 L1870.0,1481.6 L1872.9,1481.7 L1875.8,1481.8 L1878.7,1482.0 L1881.6,1482.1 L1884.5,1482.3 L1887.4,1482.4 L1890.4,1482.6 L1893.3,1482.7 L1896.2,1482.9 L1899.1,1483.0 L1902.0,1483.1 L1904.9,1483.3 L1907.8,1483.4 L1910.7,1483.5 L1913.6,1483.7 L1916.5,1483.8 L1919.4,1484.0 L1922.3,1484.1 L1925.2,1484.2 L1928.2,1484.4 L1931.1,1484.5 L1934.0,1484.6 L1936.9,1484.8 L1939.8,1484.9 L1942.7,1485.0 L1945.6,1485.2 L1948.5,1485.3 L1951.4,1485.4 L1954.3,1485.5 L1957.2,1485.7 L1960.1,1485.8 L1963.0,1485.9 L1966.0,1486.1 L1968.9,1486.2 L1971.8,1486.3 L1974.7,1486.4 L1977.6,1486.6 L1980.5,1486.7 L1983.4,1486.8 L1986.3,1486.9 L1989.2,1487.0 L1992.1,1487.2 L1995.0,1487.3 L1997.9,1487.4 L2000.8,1487.5 L2003.8,1487.6 L2006.7,1487.8 L2009.6,1487.9 L2012.5,1488.0 L2015.4,1488.1 L2018.3,1488.2 L2021.2,1488.3 L2024.1,1488.5 L2027.0,1488.6 L2029.9,1488.7 L2032.8,1488.8 L2035.7,1488.9 L2038.6,1489.0 L2041.6,1489.1 L2044.5,1489.2 L2047.4,1489.4 L2050.3,1489.5 L2053.2,1489.6 L2056.1,1489.7 L2059.0,1489.8 L2061.9,1489.9 L2064.8,1490.0 L2067.7,1490.1 L2070.6,1490.2 L2073.6,1490.3 L2076.5,1490.4 L2079.4,1490.5 L2082.3,1490.6 L2085.2,1490.7 L2088.1,1490.8 L2091.0,1490.9 L2093.9,1491.0 L2096.8,1491.1 L2099.7,1491.2 L2102.6,1491.3 L2105.6,1491.4 L2108.5,1491.5 L2111.4,1491.6 L2114.3,1491.7 L2117.2,1491.8 L2120.1,1491.9 L2123.0,1492.0 L2125.9,1492.1 L2128.8,1492.2 L2131.7,1492.3 L2134.6,1492.4 L2137.6,1492.5 L2140.5,1492.6 L2143.4,1492.7 L2146.3,1492.7 L2149.2,1492.8 L2152.1,1492.9 L2155.0,1493.0 L2157.9,1493.1 L2160.8,1493.2 L2163.7,1493.3 L2166.7,1493.4 L2169.6,1493.4 L2172.5,1493.5 L2175.4,1493.6 L2178.3,1493.7 L2181.2,1493.8 L2184.1,1493.9 L2187.0,1494.0 L2189.9,1494.0 L2192.9,1494.1 L2195.8,1494.2 L2198.7,1494.3 L2201.6,1494.4 L2204.5,1494.4 L2207.4,1494.5 L2210.3,1494.6 L2213.2,1494.7 L2216.1,1494.8 L2219.1,1494.8 L2222.0,1494.9 L2224.9,1495.0 L2227.8,1495.1 L2230.7,1495.1 L2233.6,1495.2 L2236.5,1495.3 L2239.4,1495.4 L2242.3,1495.4 L2245.3,1495.5 L2248.2,1495.6 L2251.1,1495.6 L2254.0,1495.7 L2256.9,1495.8 L2259.8,1495.9 L2262.7,1495.9 L2265.6,1496.0 L2268.6,1496.1 L2271.5,1496.1 L2274.4,1496.2 L2277.3,1496.3 L2280.2,1496.3 L2283.1,1496.4 L2286.0,1496.5 L2288.9,1496.5 L2291.9,1496.6 L2294.8,1496.7 L2297.7,1496.7 L2300.6,1496.8 L2303.5,1496.8 L2306.4,1496.9 L2309.3,1497.0 L2312.3,1497.0 L2315.2,1497.1 L2318.1,1497.1 L2321.0,1497.2" stroke="#0000ff" stroke-dasharray="21.5 27" stroke-dashoffset="7.25" stroke-linecap="round" stroke-width="11.5"/>
<path d="M363.0,1518.5 L364.6,1516.5 L366.2,1514.5 L367.8,1512.4 L369.4,1510.4 L371.0,1508.4 L372.6,1506.5 L374.2,1504.5 L375.9,1502.5 L377.5,1500.5 L379.2,1498.6 L380.8,1496.6 L382.5,1494.7 L384.2,1492.7 L385.9,1490.8 L387.6,1488.9 L389.3,1487.0 L391.1,1485.1 L392.8,1483.2 L394.5,1481.3 L396.3,1479.5 L398.0,1477.6 L399.8,1475.7 L401.6,1473.9 L403.4,1472.0 L405.2,1470.2 L407.0,1468.4 L408.8,1466.6 L410.6,1464.8 L412.4,1463.0 L414.2,1461.2 L416.1,1459.4 L417.9,1457.6 L419.8,1455.9 L421.7,1454.1 L423.5,1452.4 L425.4,1450.7 L427.3,1448.9 L429.2,1447.2 L431.1,1445.5 L433.0,1443.8 L435.0,1442.2 L436.9,1440.5 L438.8,1438.8 L440.8,1437.2 L442.7,1435.5 L444.7,1433.9 L446.7,1432.2 L448.6,1430.6 L450.6,1429.0 L452.6,1427.4 L454.6,1425.8 L456.6,1424.3 L458.6,1422.7 L460.6,1421.1 L462.7,1419.6 L464.7,1418.0 L466.7,1416.5 L468.8,1415.0 L470.8,1413.5 L472.9,1412.0 L475.0,1410.5 L477.1,1409.0 L479.1,1407.6 L481.2,1406.1 L483.3,1404.7 L485.4,1403.2 L487.5,1401.8 L489.7,1400.4 L491.8,1399.0 L493.9,1397.6 L496.0,1396.2 L498.2,1394.8 L500.3,1393.5 L502.5,1392.1 L504.6,1390.8 L506.8,1389.4 L509.0,1388.1 L511.2,1386.8 L513.3,1385.5 L515.5,1384.2 L517.7,1382.9 L519.9,1381.7 L522.1,1380.4 L524.4,1379.2 L526.6,1377.9 L528.8,1376.7 L531.0,1375.5 L533.3,1374.3 L535.5,1373.1 L537.8,1371.9 L540.0,1370.8 L542.3,1369.6 L544.5,1368.5 L546.8,1367.4 L549.1,1366.2 L551.4,1365.1 L553.6,1364.0 L555.9,1362.9 L558.2,1361.9 L560.5,1360.8 L562.8,1359.8 L565.2,1358.7 L567.5,1357.7 L569.8,1356.7 L572.1,1355.7 L574.4,1354.7 L576.8,1353.7 L579.1,1352.7 L581.5,1351.8 L583.8,1350.8 L586.2,1349.9 L588.5,1349.0 L590.9,1348.1 L593.3,1347.2 L595.6,1346.3 L598.0,1345.4 L600.4,1344.5 L602.8,1343.7 L605.1,1342.8 L607.5,1342.0 L609.9,1341.2 L612.3,1340.3 L614.7,1339.5 L617.1,1338.7 L619.6,1338.0 L622.0,1337.2 L624.4,1336.4 L626.8,1335.7 L629.2,1334.9 L631.7,1334.2 L634.1,1333.5 L636.5,1332.8 L639.0,1332.1 L641.4,1331.4 L643.9,1330.7 L646.3,1330.0 L648.8,1329.4 L651.2,1328.7 L653.7,1328.1 L656.1,1327.4 L658.6,1326.8 L661.1,1326.2 L663.5,1325.6 L666.0,1325.0 L668.5,1324.4 L670.9,1323.8 L673.4,1323.3 L675.9,1322.7 L678.4,1322.2 L680.9,1321.6 L683.4,1321.1 L685.9,1320.6 L688.4,1320.1 L690.9,1319.6 L693.4,1319.1 L695.9,1318.6 L698.4,1318.1 L700.9,1317.7 L703.4,1317.2 L705.9,1316.8 L708.4,1316.3 L710.9,1315.9 L713.4,1315.5 L715.9,1315.0 L718.4,1314.6 L721.0,1314.2 L723.5,1313.8 L726.0,1313.5 L728.5,1313.1 L731.0,1312.7 L733.6,1312.4 L736.1,1312.0 L738.6,1311.7 L741.1,1311.3 L743.7,1311.0 L746.2,1310.7 L748.7,1310.4 L751.3,1310.1 L753.8,1309.8 L756.3,1309.5 L758.9,1309.2 L761.4,1308.9 L763.9,1308.7 L766.5,1308.4 L769.0,1308.2 L771.6,1307.9 L774.1,1307.7 L776.6,1307.5 L779.2,1307.2 L781.7,1307.0 L784.3,1306.8 L786.8,1306.6 L789.3,1306.4 L791.9,1306.2 L794.4,1306.1 L796.9,1305.9 L799.5,1305.7 L802.0,1305.6 L804.6,1305.4 L807.1,1305.2 L809.6,1305.1 L812.2,1305.0 L814.7,1304.8 L817.3,1304.7 L819.8,1304.6 L822.3,1304.5 L824.9,1304.4 L827.4,1304.3 L829.9,1304.2 L832.5,1304.1 L835.0,1304.0 L837.6,1304.0 L840.1,1303.9 L842.6,1303.8 L845.2,1303.8 L847.7,1303.7 L850.2,1303.7 L852.8,1303.7 L855.3,1303.6 L857.9,1303.6 L860.4,1303.6 L862.9,1303.6 L865.5,1303.6 L868.0,1303.6 L870.5,1303.6 L873.1,1303.6 L875.6,1303.6 L878.1,1303.6 L880.7,1303.6 L883.2,1303.7 L885.7,1303.7 L888.3,1303.7 L890.8,1303.8 L893.3,1303.8 L895.9,1303.9 L898.4,1304.0 L900.9,1304.0 L903.5,1304.1 L906.0,1304.2 L908.5,1304.3 L911.1,1304.3 L913.6,1304.4 L916.1,1304.5 L918.7,1304.6 L921.2,1304.7 L923.7,1304.9 L926.3,1305.0 L928.8,1305.1 L931.3,1305.2 L933.9,1305.4 L936.4,1305.5 L938.9,1305.6 L941.5,1305.8 L944.0,1305.9 L946.5,1306.1 L949.0,1306.2 L951.6,1306.4 L954.1,1306.6 L956.6,1306.7 L959.2,1306.9 L961.7,1307.1 L964.2,1307.3 L966.8,1307.5 L969.3,1307.7 L971.8,1307.9 L974.3,1308.1 L976.9,1308.3 L979.4,1308.5 L981.9,1308.7 L984.5,1308.9 L987.0,1309.1 L989.5,1309.4 L992.1,1309.6 L994.6,1309.8 L997.1,1310.1 L999.6,1310.3 L1002.2,1310.5 L1004.7,1310.8 L1007.2,1311.0 L1009.8,1311.3 L1012.3,1311.5 L1014.8,1311.8 L1017.3,1312.1 L1019.9,1312.3 L1022.4,1312.6 L1024.9,1312.9 L1027.4,1313.2 L1030.0,1313.4 L1032.5,1313.7 L1035.0,1314.0 L1037.6,1314.3 L1040.1,1314.6 L1042.6,1314.9 L1045.1,1315.2 L1047.7,1315.5 L1050.2,1315.8 L1052.7,1316.1 L1055.2,1316.4 L1057.8,1316.7 L1060.3,1317.1 L1062.8,1317.4 L1065.3,1317.7 L1067.9,1318.0 L1070.4,1318.4 L1072.9,1318.7 L1075.4,1319.0 L1078.0,1319.4 L1080.5,1319.7 L1083.0,1320.0 L1085.5,1320.4 L1088.1,1320.7 L1090.6,1321.1 L1093.1,1321.4 L1095.6,1321.8 L1098.2,1322.1 L1100.7,1322.5 L1103.2,1322.9 L1105.7,1323.2 L1108.3,1323.6 L1110.8,1324.0 L1113.3,1324.3 L1115.8,1324.7 L1118.4,1325.1 L1120.9,1325.4 L1123.4,1325.8 L1125.9,1326.2 L1128.5,1326.6 L1131.0,1327.0 L1133.5,1327.3 L1136.0,1327.7 L1138.6,1328.1 L1141.1,1328.5 L1143.6,1328.9 L1146.1,1329.3 L1148.7,1329.7 L1151.2,1330.1 L1153.7,1330.5 L1156.2,1330.9 L1158.7,1331.3 L1161.3,1331.7 L1163.8,1332.1 L1166.3,1332.5 L1168.8,1332.9 L1171.4,1333.3 L1173.9,1333.7 L1176.4,1334.1 L1178.9,1334.5 L1181.4,1334.9 L1184.0,1335.3 L1186.5,1335.7 L1189.0,1336.1 L1191.5,1336.6 L1194.1,1337.0 L1196.6,1337.4 L1199.1,1337.8 L1201.6,1338.2 L1204.1,1338.6 L1206.7,1339.1 L1209.2,1339.5 L1211.7,1339.9 L1214.2,1340.3 L1216.8,1340.7 L1219.3,1341.2 L1221.8,1341.6 L1224.3,1342.0 L1226.8,1342.4 L1229.4,1342.8 L1231.9,1343.3 L1234.4,1343.7 L1236.9,1344.1 L1239.4,1344.5 L1242.0,1345.0 L1244.5,1345.4 L1247.0,1345.8 L1249.5,1346.2 L1252.0,1346.7 L1254.6,1347.1 L1257.1,1347.5 L1259.6,1347.9 L1262.1,1348.3 L1264.7,1348.8 L1267.2,1349.2 L1269.7,1349.6 L1272.2,1350.0 L1274.7,1350.5 L1277.3,1350.9 L1279.8,1351.3 L1282.3,1351.7 L1284.8,1352.1 L1287.3,1352.6 L1289.9,1353.0 L1292.4,1353.4 L1294.9,1353.8 L1297.4,1354.2 L1299.9,1354.7 L1302.5,1355.1 L1305.0,1355.5 L1307.5,1355.9 L1310.0,1356.3 L1312.5,1356.7 L1315.1,1357.2 L1317.6,1357.6 L1320.1,1358.0 L1322.6,1358.4 L1325.1,1358.8 L1327.7,1359.2 L1330.2,1359.6 L1332.7,1360.0 L1335.2,1360.5 L1337.7,1360.9 L1340.3,1361.3 L1342.8,1361.7 L1345.3,1362.1 L1347.8,1362.5 L1350.3,1362.9 L1352.9,1363.3 L1355.4,1363.7 L1357.9,1364.1 L1360.4,1364.5 L1362.9,1364.9 L1365.4,1365.3 L1368.0,1365.7 L1370.5,1366.2 L1373.0,1366.6 L1375.5,1367.0 L1378.0,1367.4 L1380.6,1367.8 L1383.1,1368.2 L1385.6,1368.6 L1388.1,1369.0 L1390.6,1369.4 L1393.2,1369.8 L1395.7,1370.2 L1398.2,1370.6 L1400.7,1371.0 L1403.2,1371.4 L1405.8,1371.7 L1408.3,1372.1 L1410.8,1372.5 L1413.3,1372.9 L1415.8,1373.3 L1418.3,1373.7 L1420.9,1374.1 L1423.4,1374.5 L1425.9,1374.9 L1428.4,1375.3 L1430.9,1375.7 L1433.5,1376.1 L1436.0,1376.5 L1438.5,1376.9 L1441.0,1377.2 L1443.5,1377.6 L1446.1,1378.0 L1448.6,1378.4 L1451.1,1378.8 L1453.6,1379.2 L1456.1,1379.6 L1458.7,1379.9 L1461.2,1380.3 L1463.7,1380.7 L1466.2,1381.1 L1468.7,1381.5 L1471.2,1381.9 L1473.8,1382.2 L1476.3,1382.6 L1478.8,1383.0 L1481.3,1383.4 L1483.8,1383.8 L1486.4,1384.1 L1488.9,1384.5 L1491.4,1384.9 L1493.9,1385.3 L1496.4,1385.7 L1499.0,1386.0 L1501.5,1386.4 L1504.0,1386.8 L1506.5,1387.2 L1509.0,1387.5 L1511.6,1387.9 L1514.1,1388.3 L1516.6,1388.7 L1519.1,1389.0 L1521.6,1389.4 L1524.1,1389.8 L1526.7,1390.1 L1529.2,1390.5 L1531.7,1390.9 L1534.2,1391.2 L1536.7,1391.6 L1539.3,1392.0 L1541.8,1392.4 L1544.3,1392.7 L1546.8,1393.1 L1549.3,1393.4 L1551.9,1393.8 L1554.4,1394.2 L1556.9,1394.5 L1559.4,1394.9 L1561.9,1395.3 L1564.5,1395.6 L1567.0,1396.0 L1569.5,1396.4 L1572.0,1396.7 L1574.5,1397.1 L1577.1,1397.4 L1579.6,1397.8 L1582.1,1398.1 L1584.6,1398.5 L1587.1,1398.9 L1589.6,1399.2 L1592.2,1399.6 L1594.7,1399.9 L1597.2,1400.3 L1599.7,1400.6 L1602.2,1401.0 L1604.8,1401.3 L1607.3,1401.7 L1609.8,1402.0 L1612.3,1402.4 L1614.8,1402.7 L1617.4,1403.1 L1619.9,1403.4 L1622.4,1403.8 L1624.9,1404.1 L1627.4,1404.5 L1630.0,1404.8 L1632.5,1405.2 L1635.0,1405.5 L1637.5,1405.9 L1640.0,1406.2 L1642.6,1406.6 L1645.1,1406.9 L1647.6,1407.3 L1650.1,1407.6 L1652.6,1407.9 L1655.2,1408.3 L1657.7,1408.6 L1660.2,1409.0 L1662.7,1409.3 L1665.2,1409.6 L1667.8,1410.0 L1670.3,1410.3 L1672.8,1410.7 L1675.3,1411.0 L1677.9,1411.3 L1680.4,1411.7 L1682.9,1412.0 L1685.4,1412.3 L1687.9,1412.7 L1690.5,1413.0 L1693.0,1413.3 L1695.5,1413.7 L1698.0,1414.0 L1700.5,1414.3 L1703.1,1414.6 L1705.6,1415.0 L1708.1,1415.3 L1710.6,1415.6 L1713.1,1416.0 L1715.7,1416.3 L1718.2,1416.6 L1720.7,1416.9 L1723.2,1417.3 L1725.8,1417.6 L1728.3,1417.9 L1730.8,1418.2 L1733.3,1418.6 L1735.8,1418.9 L1738.4,1419.2 L1740.9,1419.5 L1743.4,1419.8 L1745.9,1420.2 L1748.5,1420.5 L1751.0,1420.8 L1753.5,1421.1 L1756.0,1421.4 L1758.5,1421.8 L1761.1,1422.1 L1763.6,1422.4 L1766.1,1422.7 L1768.6,1423.0 L1771.2,1423.3 L1773.7,1423.6 L1776.2,1424.0 L1778.7,1424.3 L1781.3,1424.6 L1783.8,1424.9 L1786.3,1425.2 L1788.8,1425.5 L1791.3,1425.8 L1793.9,1426.1 L1796.4,1426.4 L1798.9,1426.7 L1801.4,1427.0 L1804.0,1427.3 L1806.5,1427.6 L1809.0,1428.0 L1811.5,1428.3 L1814.1,1428.6 L1816.6,1428.9 L1819.1,1429.2 L1821.6,1429.5 L1824.2,1429.8 L1826.7,1430.1 L1829.2,1430.4 L1831.7,1430.7 L1834.3,1431.0 L1836.8,1431.3 L1839.3,1431.6 L1841.8,1431.8 L1844.4,1432.1 L1846.9,1432.4 L1849.4,1432.7 L1851.9,1433.0 L1854.5,1433.3 L1857.0,1433.6 L1859.5,1433.9 L1862.0,1434.2 L1864.6,1434.5 L1867.1,1434.8 L1869.6,1435.1 L1872.1,1435.3 L1874.7,1435.6 L1877.2,1435.9 L1879.7,1436.2 L1882.2,1436.5 L1884.8,1436.8 L1887.3,1437.1 L1889.8,1437.3 L1892.3,1437.6 L1894.9,1437.9 L1897.4,1438.2 L1899.9,1438.5 L1902.4,1438.8 L1905.0,1439.0 L1907.5,1439.3 L1910.0,1439.6 L1912.6,1439.9 L1915.1,1440.1 L1917.6,1440.4 L1920.1,1440.7 L1922.7,1441.0 L1925.2,1441.2 L1927.7,1441.5 L1930.2,1441.8 L1932.8,1442.1 L1935.3,1442.3 L1937.8,1442.6 L1940.4,1442.9 L1942.9,1443.1 L1945.4,1443.4 L1947.9,1443.7 L1950.5,1443.9 L1953.0,1444.2 L1955.5,1444.5 L1958.1,1444.7 L1960.6,1445.0 L1963.1,1445.3 L1965.6,1445.5 L1968.2,1445.8 L1970.7,1446.1 L1973.2,1446.3 L1975.8,1446.6 L1978.3,1446.8 L1980.8,1447.1 L1983.4,1447.4 L1985.9,1447.6 L1988.4,1447.9 L1990.9,1448.1 L1993.5,1448.4 L1996.0,1448.7 L1998.5,1448.9 L2001.1,1449.2 L2003.6,1449.4 L2006.1,1449.7 L2008.7,1449.9 L2011.2,1450.2 L2013.7,1450.4 L2016.3,1450.7 L2018.8,1450.9 L2021.3,1451.2 L2023.8,1451.4 L2026.4,1451.7 L2028.9,1451.9 L2031.4,1452.2 L2034.0,1452.4 L2036.5,1452.6 L2039.0,1452.9 L2041.6,1453.1 L2044.1,1453.4 L2046.6,1453.6 L2049.2,1453.9 L2051.7,1454.1 L2054.2,1454.3 L2056.8,1454.6 L2059.3,1454.8 L2061.8,1455.1 L2064.4,1455.3 L2066.9,1455.5 L2069.4,1455.8 L2072.0,1456.0 L2074.5,1456.2 L2077.0,1456.5 L2079.6,1456.7 L2082.1,1456.9 L2084.6,1457.2 L2087.2,1457.4 L2089.7,1457.6 L2092.3,1457.9 L2094.8,1458.1 L2097.3,1458.3 L2099.9,1458.5 L2102.4,1458.8 L2104.9,1459.0 L2107.5,1459.2 L2110.0,1459.4 L2112.5,1459.7 L2115.1,1459.9 L2117.6,1460.1 L2120.1,1460.3 L2122.7,1460.5 L2125.2,1460.8 L2127.8,1461.0 L2130.3,1461.2 L2132.8,1461.4 L2135.4,1461.6 L2137.9,1461.9 L2140.4,1462.1 L2143.0,1462.3 L2145.5,1462.5 L2148.1,1462.7 L2150.6,1462.9 L2153.1,1463.1 L2155.7,1463.4 L2158.2,1463.6 L2160.8,1463.8 L2163.3,1464.0 L2165.8,1464.2 L2168.4,1464.4 L2170.9,1464.6 L2173.4,1464.8 L2176.0,1465.0 L2178.5,1465.2 L2181.1,1465.4 L2183.6,1465.6 L2186.1,1465.8 L2188.7,1466.0 L2191.2,1466.2 L2193.8,1466.4 L2196.3,1466.6 L2198.9,1466.8 L2201.4,1467.0 L2203.9,1467.2 L2206.5,1467.4 L2209.0,1467.6 L2211.6,1467.8 L2214.1,1468.0 L2216.6,1468.2 L2219.2,1468.4 L2221.7,1468.6 L2224.3,1468.8 L2226.8,1469.0 L2229.4,1469.2 L2231.9,1469.4 L2234.4,1469.5 L2237.0,1469.7 L2239.5,1469.9 L2242.1,1470.1 L2244.6,1470.3 L2247.2,1470.5 L2249.7,1470.7 L2252.2,1470.8 L2254.8,1471.0 L2257.3,1471.2 L2259.9,1471.4 L2262.4,1471.6 L2265.0,1471.7 L2267.5,1471.9 L2270.1,1472.1 L2272.6,1472.3 L2275.2,1472.5 L2277.7,1472.6 L2280.2,1472.8 L2282.8,1473.0 L2285.3,1473.2 L2287.9,1473.3 L2290.4,1473.5 L2293.0,1473.7 L2295.5,1473.8 L2298.1,1474.0 L2300.6,1474.2 L2303.2,1474.4 L2305.7,1474.5 L2308.3,1474.7 L2310.8,1474.9 L2313.4,1475.0 L2315.9,1475.2 L2318.5,1475.3 L2321.0,1475.5" stroke="#000000" stroke-dasharray="21.5 27" stroke-dashoffset="-7.85" stroke-linecap="round" stroke-width="11.5"/>
</g></g>
<rect x="363.0" y="60.7" width="1958.0" height="1457.8" fill="none" stroke="#000" stroke-width="7.5" stroke-linejoin="miter"/>
<path d="M363.0,1518.5v30 M363.0,60.7v30 M607.8,1518.5v15 M607.8,60.7v15 M852.5,1518.5v30 M852.5,60.7v30 M1097.2,1518.5v15 M1097.2,60.7v15 M1342.0,1518.5v30 M1342.0,60.7v30 M1586.8,1518.5v15 M1586.8,60.7v15 M1831.5,1518.5v30 M1831.5,60.7v30 M2076.2,1518.5v15 M2076.2,60.7v15 M2321.0,1518.5v30 M2321.0,60.7v30 M363.0,1518.5h-30.5 M2321.0,1518.5h-30 M363.0,1372.7h-15.5 M2321.0,1372.7h-15 M363.0,1226.9h-30.5 M2321.0,1226.9h-30 M363.0,1081.2h-15.5 M2321.0,1081.2h-15 M363.0,935.4h-30.5 M2321.0,935.4h-30 M363.0,789.6h-15.5 M2321.0,789.6h-15 M363.0,643.8h-30.5 M2321.0,643.8h-30 M363.0,498.0h-15.5 M2321.0,498.0h-15 M363.0,352.3h-30.5 M2321.0,352.3h-30 M363.0,206.5h-15.5 M2321.0,206.5h-15 M363.0,60.7h-30.5 M2321.0,60.7h-30" stroke="#000" stroke-width="7.0" fill="none"/>
<g font-family="Liberation Sans, Arial, sans-serif" font-size="77" fill="#000"><text x="206.96" y="1540.0">0.0</text><text x="206.96" y="1248.4">0.5</text><text x="206.96" y="956.9"><tspan dx="2.56">1</tspan><tspan dx="-2.56">.0</tspan></text><text x="206.96" y="665.3"><tspan dx="2.56">1</tspan><tspan dx="-2.56">.5</tspan></text><text x="206.96" y="373.8">2.0</text><text x="206.96" y="82.2">2.5</text><text x="309.48" y="1626.0">0.0</text><text x="798.98" y="1626.0">0.5</text><text x="1288.48" y="1626.0"><tspan dx="2.56">1</tspan><tspan dx="-2.56">.0</tspan></text><text x="1777.98" y="1626.0"><tspan dx="2.56">1</tspan><tspan dx="-2.56">.5</tspan></text><text x="2267.48" y="1626.0">2.0</text></g>
<text transform="translate(99,778) rotate(-90)" text-anchor="middle" font-family="Liberation Sans, Arial, sans-serif" font-size="98">H(y)</text>
<text y="1735" font-family="Liberation Sans, Arial, sans-serif" font-size="97"><tspan x="1163.5">y=R/R</tspan><tspan x="1433.8" y="1752.5" font-size="56">*</tspan><tspan x="1458" y="1735">(</tspan><tspan x="1490" font-family="Liberation Serif, serif">τ</tspan><tspan x="1535.3">)</tspan></text>
<path d="M1751.5,182.6H1919.5" stroke="#0000ff" stroke-width="13.5" stroke-linecap="round"/>
<text x="1940.5" y="208" font-family="Liberation Sans, Arial, sans-serif" font-size="84">c=0.3</text>
<path d="M1751.5,282.8H1919.5" stroke="#000000" stroke-width="13.5" stroke-linecap="round"/>
<text x="1943" y="307.2" font-family="Liberation Sans, Arial, sans-serif" font-size="84">c=1</text>
<path d="M1751.5,383.3H1919.5" stroke="#ff0000" stroke-width="13.5" stroke-linecap="round"/>
<text x="1943" y="407.3" font-family="Liberation Sans, Arial, sans-serif" font-size="84">c=2.5</text>
<g fill="#fff"><rect x="213.84" y="949.83" width="15.04" height="8.55"/><rect x="235.68" y="949.83" width="14.63" height="8.55"/><rect x="213.84" y="658.27" width="15.04" height="8.55"/><rect x="235.68" y="658.27" width="14.63" height="8.55"/><rect x="1295.36" y="1618.95" width="15.04" height="8.55"/><rect x="1317.20" y="1618.95" width="14.63" height="8.55"/><rect x="1784.86" y="1618.95" width="15.04" height="8.55"/><rect x="1806.70" y="1618.95" width="14.63" height="8.55"/><rect x="2038.77" y="299.62" width="16.41" height="9.08"/><rect x="2062.60" y="299.62" width="15.96" height="9.08"/></g>
</svg>
</body></html>
